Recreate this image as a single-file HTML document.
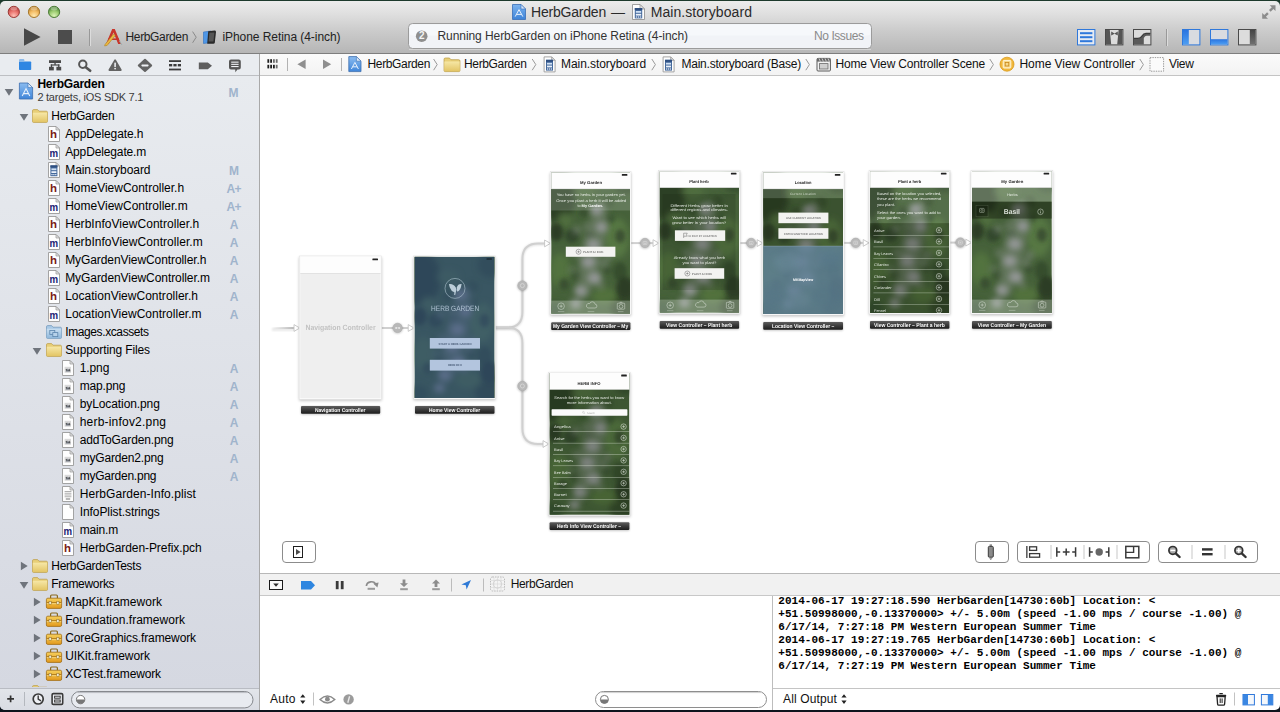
<!DOCTYPE html>
<html>
<head>
<meta charset="utf-8">
<title>HerbGarden — Main.storyboard</title>
<style>
*{box-sizing:border-box;margin:0;padding:0}
html,body{width:1280px;height:712px;overflow:hidden;background:#0e141d}
body{background:linear-gradient(#1d3a2c 0,#1d3a2c 10px,#0e141d 10px)}
body{font-family:"Liberation Sans",sans-serif;font-size:12px;color:#000;position:relative}
.abs{position:absolute}
#win{position:absolute;left:0;top:0;width:1280px;height:710px;background:transparent;border-radius:0 0 5px 5px;overflow:hidden}
#topstrip{position:absolute;left:0;top:0;width:1280px;height:1px;background:#1d3a2c;z-index:5}
#tbar{position:absolute;left:0;top:1px;width:1280px;height:53px;background:linear-gradient(#ececec 0px,#e0e0e0 12px,#cbcbcb 30px,#b6b6b6 52px);border-bottom:1px solid #7e7e7e;border-radius:5px 5px 0 0}
#nav{position:absolute;left:0;top:54px;width:259px;height:656px;background:linear-gradient(#e8ebef 22px,#d5d8e1 634px)}
#navdiv{position:absolute;left:259px;top:54px;width:1px;height:656px;background:#a9a9a9}
#navsel{position:absolute;left:0;top:54px;width:259px;height:22px;background:#e9ecf0;border-bottom:1px solid #bdbfc3}
#navbot{position:absolute;left:0;top:688px;width:259px;height:22px;background:linear-gradient(#e2e5ea,#d9dce3);border-top:1px solid #b9bcc3}
#jump{position:absolute;left:260px;top:54px;width:1020px;height:22px;background:linear-gradient(#fbfbfb,#f3f3f3);border-bottom:1px solid #c4c4c4}
#canvas{position:absolute;left:260px;top:76px;width:1020px;height:497px;background:#fff;overflow:hidden}
#dbar{position:absolute;left:260px;top:573px;width:1020px;height:23px;background:#f1f1f1;border-top:1px solid #b8b8b8;border-bottom:1px solid #c8c8c8}
#dbg{position:absolute;left:260px;top:596px;width:1020px;height:114px;background:#fff}
#dsplit{position:absolute;left:772px;top:596px;width:1px;height:114px;background:#bdbdbd}
#dbot{position:absolute;left:773px;top:688px;width:507px;height:1px;background:#c4c4c4}
.t{position:absolute;white-space:pre;display:block}
svg{position:absolute;overflow:visible}
</style>
</head>
<body>
<div id="topstrip"></div>
<div id="win">
<div id="tbar"></div>
<svg style="left:0;top:0" width="1280" height="54" viewBox="0 0 1280 54">
<defs>
<radialGradient id="gr" cx="50%" cy="85%" r="70%"><stop offset="0" stop-color="#ffc0b6"/><stop offset="0.6" stop-color="#ea746e"/><stop offset="1" stop-color="#c04a46"/></radialGradient>
<radialGradient id="gy" cx="50%" cy="85%" r="70%"><stop offset="0" stop-color="#ffe9b0"/><stop offset="0.6" stop-color="#f4bc64"/><stop offset="1" stop-color="#c8903a"/></radialGradient>
<radialGradient id="gg" cx="50%" cy="85%" r="70%"><stop offset="0" stop-color="#dcf4b8"/><stop offset="0.6" stop-color="#9ccc70"/><stop offset="1" stop-color="#5c9444"/></radialGradient>
<linearGradient id="gblue" x1="0" y1="0" x2="0" y2="1"><stop offset="0" stop-color="#2a74e0"/><stop offset="1" stop-color="#4d9ef2"/></linearGradient>
<linearGradient id="ggrey" x1="0" y1="0" x2="0" y2="1"><stop offset="0" stop-color="#454545"/><stop offset="1" stop-color="#707070"/></linearGradient>
<linearGradient id="gdoc" x1="0" y1="0" x2="0" y2="1"><stop offset="0" stop-color="#7db4ee"/><stop offset="1" stop-color="#3d83d8"/></linearGradient>
</defs>
<!-- traffic lights -->
<circle cx="13.8" cy="11.9" r="5.6" fill="url(#gr)" stroke="#9a3834" stroke-width="1"/>
<circle cx="34" cy="11.9" r="5.6" fill="url(#gy)" stroke="#a5772c" stroke-width="1"/>
<circle cx="54.1" cy="11.9" r="5.6" fill="url(#gg)" stroke="#4a7a36" stroke-width="1"/>
<ellipse cx="13.8" cy="8.6" rx="3.4" ry="1.9" fill="#fff" opacity="0.3"/>
<ellipse cx="34" cy="8.6" rx="3.4" ry="1.9" fill="#fff" opacity="0.3"/>
<ellipse cx="54.1" cy="8.6" rx="3.4" ry="1.9" fill="#fff" opacity="0.3"/>
<!-- run / stop -->
<path d="M24 28.3 L40.6 37 L24 45.7 Z" fill="#484848"/>
<rect x="58" y="30" width="14" height="14" fill="#4c4c4c"/>
<rect x="89" y="29" width="1" height="17" fill="#999"/>
<rect x="90" y="29" width="1" height="17" fill="#dcdcdc"/>
<!-- scheme: xcode app icon -->
<g>
<path d="M106 44 L112.2 29 L114.8 29 L121 44 L118.2 44 L113.5 32.5 L108.8 44 Z" fill="#c8352b"/>
<rect x="108" y="38.4" width="11" height="1.6" fill="#c8352b"/>
<path d="M105.2 44.2 L113.5 34 L115.3 35.6 L107.2 45.4 L104.6 46 Z" fill="#e9b640" stroke="#a67a1c" stroke-width="0.5"/>
<path d="M119.5 41 L121.8 44.8" stroke="#9aa" stroke-width="1"/>
</g>
<!-- chevron -->
<path d="M192.6 31.6 L196.2 37.2 L192.6 42.8" fill="none" stroke="#8a8a8a" stroke-width="1"/>
<!-- iphone icon -->
<g>
<path d="M203.5 32 L211 31 L211 42.5 L203.5 43.5 Z" fill="#4f97e6" stroke="#2f6fc0" stroke-width="0.6"/>
<path d="M208.2 31.2 L214.6 30.6 Q216 30.6 216 32 L214.8 42.6 Q214.6 43.8 213.4 43.8 L207.2 43.8 Z" fill="#2a2a2a"/>
<path d="M209.4 32.8 L214.4 32.4 L213.4 41.4 L208.6 41.6 Z" fill="#555"/>
</g>
<!-- title doc icons -->
<g>
<path d="M512.5 4.5 L521 4.5 L525.5 9 L525.5 19.5 L512.5 19.5 Z" fill="url(#gdoc)" stroke="#3a6fb8" stroke-width="0.8"/>
<path d="M521 4.5 L521 9 L525.5 9 Z" fill="#d6e6f8" stroke="#3a6fb8" stroke-width="0.6"/>
<path d="M515.2 16.6 L519 9.6 L522.8 16.6 M516.4 14.4 L521.6 14.4" fill="none" stroke="#e8f1fc" stroke-width="1"/>
</g>
<g>
<path d="M632.5 4.5 L640 4.5 L644.5 9 L644.5 19.5 L632.5 19.5 Z" fill="#fdfdfd" stroke="#8a8a8a" stroke-width="0.8"/>
<path d="M640 4.5 L640 9 L644.5 9 Z" fill="#e6e6e6" stroke="#8a8a8a" stroke-width="0.6"/>
<rect x="634.8" y="8" width="7.4" height="10.4" fill="#44699c"/><rect x="634.8" y="8" width="7.4" height="2" fill="#2f4f80"/><rect x="635.8" y="11" width="5.4" height="1.8" fill="#cfe0f4"/><rect x="635.8" y="13.8" width="5.4" height="1.8" fill="#eaf1fa"/><rect x="635.8" y="16.4" width="1.3" height="1.2" fill="#eaf1fa"/><rect x="637.85" y="16.4" width="1.3" height="1.2" fill="#eaf1fa"/><rect x="639.9" y="16.4" width="1.3" height="1.2" fill="#eaf1fa"/>
</g>
<!-- activity viewer -->
<rect x="408.5" y="23.5" width="463" height="25" rx="4" fill="#f1f3f7" stroke="#9b9b9b" stroke-width="1"/>
<rect x="409.5" y="24.5" width="461" height="11" rx="3" fill="#f8f9fb" opacity="0.8"/>
<rect x="409" y="49" width="462" height="1" fill="#e0e0e0" opacity="0.7"/>
<circle cx="421.7" cy="36.2" r="5.8" fill="#8e8e8e"/>
<!-- right buttons -->
<g>
<rect x="1077.5" y="29.5" width="17.4" height="15.4" fill="#e6ebf3" stroke="#2f78db" stroke-width="1"/>
<rect x="1080" y="32.2" width="12.4" height="2" fill="#2f78db"/><rect x="1080" y="36.2" width="12.4" height="2" fill="#2f78db"/><rect x="1080" y="40.2" width="12.4" height="2" fill="#2f78db"/>
</g>
<g>
<rect x="1105.5" y="29.5" width="17.4" height="15.4" fill="#dcdcdc" stroke="#4a4a4a" stroke-width="1"/>
<path d="M1106 30 L1109.8 30 L1111.2 44.4 L1106 44.4 Z M1122.4 30 L1118.6 30 L1117.2 44.4 L1122.4 44.4 Z" fill="#555"/>
<path d="M1111.2 31.6 L1114.5 33.4 L1117.8 31.6 L1117.8 35.6 L1114.5 33.8 L1111.2 35.6 Z" fill="#555"/>
</g>
<g>
<rect x="1133.5" y="29.5" width="17.4" height="15.4" fill="#dcdcdc" stroke="#4a4a4a" stroke-width="1"/>
<path d="M1134 44.4 L1134 38.4 L1138 38.4 Q1140.6 38.4 1142 36 Q1143.6 33.4 1146 33.4 L1150.4 33.4 L1150.4 35.8 L1146.6 35.8 Q1145 35.8 1143.8 38 L1143.8 44.4 Z" fill="#5a5a5a"/><path d="M1134 38.4 L1138 38.4 Q1140.6 38.4 1142 36 Q1143.6 33.4 1146 33.4 L1150.4 33.4" fill="none" stroke="#3c3c3c" stroke-width="1.4"/></g>
<rect x="1166" y="29" width="1" height="17" fill="#999"/><rect x="1167" y="29" width="1" height="17" fill="#dcdcdc"/>
<g>
<rect x="1182.5" y="29.5" width="17.4" height="15.4" fill="#d9dbe0" stroke="#2f78db" stroke-width="1"/>
<rect x="1183" y="30" width="5.8" height="14.4" fill="url(#gblue)"/>
</g>
<g>
<rect x="1210.5" y="29.5" width="17.4" height="15.4" fill="#d9dbe0" stroke="#2f78db" stroke-width="1"/>
<rect x="1211" y="39.2" width="16.4" height="5.2" fill="url(#gblue)"/>
</g>
<g>
<rect x="1238.5" y="29.5" width="17.4" height="15.4" fill="#dcdcdc" stroke="#4a4a4a" stroke-width="1"/>
<rect x="1249.8" y="30" width="5.6" height="14.4" fill="url(#ggrey)"/>
</g>
<!-- fullscreen arrows -->
<path d="M1275.5 5.2 L1275.5 11 L1273.4 8.9 L1270.6 11.7 L1269 10.1 L1271.8 7.3 L1269.7 5.2 Z" fill="#8c8c8c"/>
<path d="M1262.2 18.8 L1262.2 13 L1264.3 15.1 L1267.1 12.3 L1268.7 13.9 L1265.9 16.7 L1268 18.8 Z" fill="#8c8c8c"/>
</svg>
<span class="t" style="left:531px;top:2.7px;height:19px;line-height:19px;font-size:14px;letter-spacing:-0.205px;color:#2a2a2a">HerbGarden</span>
<span class="t" style="left:611px;top:2.5px;height:19px;line-height:19px;font-size:14px;letter-spacing:-1.000px;color:#2a2a2a">—</span>
<span class="t" style="left:650.7px;top:2.7px;height:19px;line-height:19px;font-size:14px;letter-spacing:0.061px;color:#2a2a2a">Main.storyboard</span>
<span class="t" style="left:125.5px;top:29px;height:16px;line-height:16px;font-size:12px;letter-spacing:-0.355px;color:#222">HerbGarden</span>
<span class="t" style="left:222.4px;top:29px;height:16px;line-height:16px;font-size:12px;letter-spacing:-0.059px;color:#222">iPhone Retina (4-inch)</span>
<span class="t" style="left:437.5px;top:28.2px;height:16px;line-height:16px;font-size:12px;letter-spacing:-0.068px;color:#333">Running HerbGarden on iPhone Retina (4-inch)</span>
<span class="t" style="left:814px;top:28.2px;height:16px;line-height:16px;font-size:12px;letter-spacing:-0.429px;color:#8a8a8a">No Issues</span>
<span class="t" style="left:418.9px;top:29.3px;height:14px;line-height:14px;font-size:10px;color:#f4f4f4;font-weight:bold">2</span>
<div id="nav"></div>
<div id="tree" class="abs" style="left:0;top:0;width:259px;height:687px;overflow:hidden">
<svg width="0" height="0" style="left:0;top:0"><defs>
<linearGradient id="gfold" x1="0" y1="0" x2="0" y2="1"><stop offset="0" stop-color="#f6e7a6"/><stop offset="1" stop-color="#e3c565"/></linearGradient>
<linearGradient id="gxca" x1="0" y1="0" x2="0" y2="1"><stop offset="0" stop-color="#c9dff1"/><stop offset="1" stop-color="#8fb8dc"/></linearGradient>
<linearGradient id="gtool" x1="0" y1="0" x2="0" y2="1"><stop offset="0" stop-color="#f6cf5a"/><stop offset="1" stop-color="#e39a1e"/></linearGradient>
<linearGradient id="gproj" x1="0" y1="0" x2="0" y2="1"><stop offset="0" stop-color="#8bbcf0"/><stop offset="1" stop-color="#3f85d9"/></linearGradient>
<g id="i-doc"><path d="M-5.5 -7.5 L2 -7.5 L5.5 -4 L5.5 7.5 L-5.5 7.5 Z" fill="#fefefe" stroke="#9a9a9a" stroke-width="0.9"/><path d="M2 -7.5 L2 -4 L5.5 -4 Z" fill="#e2e2e2" stroke="#9a9a9a" stroke-width="0.7"/></g>
<g id="i-folder"><path d="M-7.5 -5.2 Q-7.5 -6.4 -6.3 -6.4 L-2.4 -6.4 L-1 -4.8 L6.3 -4.8 Q7.5 -4.8 7.5 -3.6 L7.5 5.4 Q7.5 6.4 6.5 6.4 L-6.5 6.4 Q-7.5 6.4 -7.5 5.4 Z" fill="#e8cf78" stroke="#b99a45" stroke-width="0.7"/><path d="M-7.2 -3.2 L7.2 -3.2 L7.2 5.4 Q7.2 6.1 6.5 6.1 L-6.5 6.1 Q-7.2 6.1 -7.2 5.4 Z" fill="url(#gfold)"/></g>
<g id="i-xca"><path d="M-7.5 -5.2 Q-7.5 -6.4 -6.3 -6.4 L-2.4 -6.4 L-1 -4.8 L6.3 -4.8 Q7.5 -4.8 7.5 -3.6 L7.5 5.4 Q7.5 6.4 6.5 6.4 L-6.5 6.4 Q-7.5 6.4 -7.5 5.4 Z" fill="#a9c9e6" stroke="#6b93b8" stroke-width="0.7"/><path d="M-7.2 -3.2 L7.2 -3.2 L7.2 5.4 Q7.2 6.1 6.5 6.1 L-6.5 6.1 Q-7.2 6.1 -7.2 5.4 Z" fill="url(#gxca)"/><rect x="-4.2" y="-1.6" width="5" height="4" fill="none" stroke="#5d86ad" stroke-width="0.8"/><rect x="-1.2" y="0.6" width="5" height="4" fill="#b7d2ea" stroke="#5d86ad" stroke-width="0.8"/></g>
<g id="i-tool"><path d="M-3.4 -3.4 L-3.4 -6 Q-3.4 -7 -2.4 -7 L2.4 -7 Q3.4 -7 3.4 -6 L3.4 -3.4" fill="none" stroke="#8a6a1e" stroke-width="1.2"/><rect x="-7.6" y="-3.8" width="15.2" height="10.2" rx="1.4" fill="url(#gtool)" stroke="#a06c14" stroke-width="0.8"/><rect x="-7.2" y="0.2" width="14.4" height="1.1" fill="#a87418"/><rect x="-7.2" y="1.3" width="14.4" height="0.8" fill="#fbe08a"/><rect x="-5" y="-0.6" width="2.2" height="2.8" fill="#f4f0e0" stroke="#8a6a1e" stroke-width="0.5"/><rect x="2.8" y="-0.6" width="2.2" height="2.8" fill="#f4f0e0" stroke="#8a6a1e" stroke-width="0.5"/></g>
<path id="tri-d" d="M-4.3 -3.1 L4.3 -3.1 L0 3.7 Z" fill="#6f747c"/>
<path id="tri-r" d="M-3.1 -4.3 L3.7 0 L-3.1 4.3 Z" fill="#6f747c"/>
</defs></svg>
<svg style="left:9.4px;top:91.8px" width="1" height="1"><use href="#tri-d"/></svg>
<svg style="left:26.2px;top:91.2px" width="1" height="1"><path d="M-6.6 -8 L2 -8 L6.6 -3.4 L6.6 8 L-6.6 8 Z" fill="url(#gproj)" stroke="#3d6fae" stroke-width="0.8"/><path d="M2 -8 L2 -3.4 L6.6 -3.4 Z" fill="#dbe9f9" stroke="#3d6fae" stroke-width="0.6"/><path d="M-3.8 5 L0 -2.4 L3.8 5 M-2.6 2.6 L2.6 2.6" fill="none" stroke="#e6f0fc" stroke-width="1.1"/></svg>
<span class="t" style="left:37.4px;top:76.4px;height:16px;line-height:16px;font-size:12px;letter-spacing:-0.226px;font-weight:bold;color:#000">HerbGarden</span>
<span class="t" style="left:37.4px;top:90.3px;height:15px;line-height:15px;font-size:11px;letter-spacing:-0.254px;color:#3c3c3c">2 targets, iOS SDK 7.1</span>
<span class="t" style="left:228.6px;top:84.6px;height:16px;line-height:16px;font-size:12px;letter-spacing:-0.600px;font-weight:bold;color:#a0b4cc">M</span>
<svg style="left:24px;top:116.5px" width="1" height="1"><use href="#tri-d"/></svg>
<svg style="left:40px;top:116.1px" width="1" height="1"><use href="#i-folder"/></svg>
<span class="t" style="left:51.3px;top:108.3px;height:16px;line-height:16px;font-size:12px;letter-spacing:-0.305px;color:#000">HerbGarden</span>
<svg style="left:54px;top:134.1px" width="1" height="1"><use href="#i-doc"/><text x="-0.4" y="4.4" text-anchor="middle" font-family="Liberation Sans" font-weight="bold" font-size="11.5" fill="#7a1d17">h</text></svg>
<span class="t" style="left:65.2px;top:126.3px;height:16px;line-height:16px;font-size:12px;letter-spacing:-0.093px;color:#000">AppDelegate.h</span>
<svg style="left:54px;top:152.1px" width="1" height="1"><use href="#i-doc"/><text x="-0.1" y="4.6" text-anchor="middle" font-family="Liberation Sans" font-weight="bold" font-size="10.5" fill="#1c2275" textLength="8.6" lengthAdjust="spacingAndGlyphs">m</text></svg>
<span class="t" style="left:65.2px;top:144.3px;height:16px;line-height:16px;font-size:12px;letter-spacing:-0.132px;color:#000">AppDelegate.m</span>
<svg style="left:54px;top:170.1px" width="1" height="1"><use href="#i-doc"/><rect x="-3.6" y="-4.6" width="7" height="10.8" fill="#44699c"/><rect x="-3.6" y="-4.6" width="7" height="2" fill="#2f4f80"/><rect x="-2.6" y="-1.6" width="5" height="1.8" fill="#cfe0f4"/><rect x="-2.6" y="1.2" width="5" height="1.8" fill="#eaf1fa"/><rect x="-2.6" y="4" width="1.2" height="1.2" fill="#eaf1fa"/><rect x="-0.7" y="4" width="1.2" height="1.2" fill="#eaf1fa"/><rect x="1.2" y="4" width="1.2" height="1.2" fill="#eaf1fa"/></svg>
<span class="t" style="left:65.2px;top:162.3px;height:16px;line-height:16px;font-size:12px;letter-spacing:-0.050px;color:#000">Main.storyboard</span>
<span class="t" style="left:228.9px;top:162.5px;height:16px;line-height:16px;font-size:12px;letter-spacing:-0.600px;font-weight:bold;color:#a0b4cc">M</span>
<svg style="left:54px;top:188.1px" width="1" height="1"><use href="#i-doc"/><text x="-0.4" y="4.4" text-anchor="middle" font-family="Liberation Sans" font-weight="bold" font-size="11.5" fill="#7a1d17">h</text></svg>
<span class="t" style="left:65.2px;top:180.3px;height:16px;line-height:16px;font-size:12px;letter-spacing:-0.014px;color:#000">HomeViewController.h</span>
<span class="t" style="left:226.6px;top:180.5px;height:16px;line-height:16px;font-size:12px;letter-spacing:-0.844px;font-weight:bold;color:#a0b4cc">A+</span>
<svg style="left:54px;top:206.1px" width="1" height="1"><use href="#i-doc"/><text x="-0.1" y="4.6" text-anchor="middle" font-family="Liberation Sans" font-weight="bold" font-size="10.5" fill="#1c2275" textLength="8.6" lengthAdjust="spacingAndGlyphs">m</text></svg>
<span class="t" style="left:65.2px;top:198.3px;height:16px;line-height:16px;font-size:12px;letter-spacing:-0.000px;color:#000">HomeViewController.m</span>
<span class="t" style="left:226.6px;top:198.5px;height:16px;line-height:16px;font-size:12px;letter-spacing:-0.844px;font-weight:bold;color:#a0b4cc">A+</span>
<svg style="left:54px;top:224.1px" width="1" height="1"><use href="#i-doc"/><text x="-0.4" y="4.4" text-anchor="middle" font-family="Liberation Sans" font-weight="bold" font-size="11.5" fill="#7a1d17">h</text></svg>
<span class="t" style="left:65.2px;top:216.3px;height:16px;line-height:16px;font-size:12px;letter-spacing:0.038px;color:#000">HerbInfoViewController.h</span>
<span class="t" style="left:229.7px;top:216.5px;height:16px;line-height:16px;font-size:12px;letter-spacing:-0.872px;font-weight:bold;color:#a0b4cc">A</span>
<svg style="left:54px;top:242.1px" width="1" height="1"><use href="#i-doc"/><text x="-0.1" y="4.6" text-anchor="middle" font-family="Liberation Sans" font-weight="bold" font-size="10.5" fill="#1c2275" textLength="8.6" lengthAdjust="spacingAndGlyphs">m</text></svg>
<span class="t" style="left:65.2px;top:234.3px;height:16px;line-height:16px;font-size:12px;letter-spacing:0.045px;color:#000">HerbInfoViewController.m</span>
<span class="t" style="left:229.7px;top:234.5px;height:16px;line-height:16px;font-size:12px;letter-spacing:-0.872px;font-weight:bold;color:#a0b4cc">A</span>
<svg style="left:54px;top:260.1px" width="1" height="1"><use href="#i-doc"/><text x="-0.4" y="4.4" text-anchor="middle" font-family="Liberation Sans" font-weight="bold" font-size="11.5" fill="#7a1d17">h</text></svg>
<span class="t" style="left:65.2px;top:252.3px;height:16px;line-height:16px;font-size:12px;letter-spacing:-0.083px;color:#000">MyGardenViewController.h</span>
<span class="t" style="left:229.7px;top:252.5px;height:16px;line-height:16px;font-size:12px;letter-spacing:-0.872px;font-weight:bold;color:#a0b4cc">A</span>
<svg style="left:54px;top:278.1px" width="1" height="1"><use href="#i-doc"/><text x="-0.1" y="4.6" text-anchor="middle" font-family="Liberation Sans" font-weight="bold" font-size="10.5" fill="#1c2275" textLength="8.6" lengthAdjust="spacingAndGlyphs">m</text></svg>
<span class="t" style="left:65.2px;top:270.3px;height:16px;line-height:16px;font-size:12px;letter-spacing:-0.076px;color:#000">MyGardenViewController.m</span>
<span class="t" style="left:229.7px;top:270.5px;height:16px;line-height:16px;font-size:12px;letter-spacing:-0.872px;font-weight:bold;color:#a0b4cc">A</span>
<svg style="left:54px;top:296.1px" width="1" height="1"><use href="#i-doc"/><text x="-0.4" y="4.4" text-anchor="middle" font-family="Liberation Sans" font-weight="bold" font-size="11.5" fill="#7a1d17">h</text></svg>
<span class="t" style="left:65.2px;top:288.3px;height:16px;line-height:16px;font-size:12px;letter-spacing:0.011px;color:#000">LocationViewController.h</span>
<span class="t" style="left:229.7px;top:288.5px;height:16px;line-height:16px;font-size:12px;letter-spacing:-0.872px;font-weight:bold;color:#a0b4cc">A</span>
<svg style="left:54px;top:314.1px" width="1" height="1"><use href="#i-doc"/><text x="-0.1" y="4.6" text-anchor="middle" font-family="Liberation Sans" font-weight="bold" font-size="10.5" fill="#1c2275" textLength="8.6" lengthAdjust="spacingAndGlyphs">m</text></svg>
<span class="t" style="left:65.2px;top:306.3px;height:16px;line-height:16px;font-size:12px;letter-spacing:0.023px;color:#000">LocationViewController.m</span>
<span class="t" style="left:229.7px;top:306.5px;height:16px;line-height:16px;font-size:12px;letter-spacing:-0.872px;font-weight:bold;color:#a0b4cc">A</span>
<svg style="left:54px;top:332.1px" width="1" height="1"><use href="#i-xca"/></svg>
<span class="t" style="left:65.2px;top:324.3px;height:16px;line-height:16px;font-size:12px;letter-spacing:-0.392px;color:#000">Images.xcassets</span>
<svg style="left:37.4px;top:350.5px" width="1" height="1"><use href="#tri-d"/></svg>
<svg style="left:54px;top:350.1px" width="1" height="1"><use href="#i-folder"/></svg>
<span class="t" style="left:65.2px;top:342.3px;height:16px;line-height:16px;font-size:12px;letter-spacing:-0.120px;color:#000">Supporting Files</span>
<svg style="left:68.2px;top:368.1px" width="1" height="1"><use href="#i-doc"/><rect x="-3.4" y="-1.2" width="6.4" height="6" fill="#d9d9d9"/><path d="M-2.4 3.6 L-1 0.2 L0 2.2 L1.2 0.4 L2.4 3.6 Z" fill="#6e7580"/><circle cx="-1.6" cy="1.8" r="0.8" fill="#555"/><circle cx="1.4" cy="2.2" r="0.9" fill="#555"/></svg>
<span class="t" style="left:79.7px;top:360.3px;height:16px;line-height:16px;font-size:12px;letter-spacing:-0.086px;color:#000">1.png</span>
<span class="t" style="left:229.7px;top:360.5px;height:16px;line-height:16px;font-size:12px;letter-spacing:-0.872px;font-weight:bold;color:#a0b4cc">A</span>
<svg style="left:68.2px;top:386.1px" width="1" height="1"><use href="#i-doc"/><rect x="-3.4" y="-1.2" width="6.4" height="6" fill="#d9d9d9"/><path d="M-2.4 3.6 L-1 0.2 L0 2.2 L1.2 0.4 L2.4 3.6 Z" fill="#6e7580"/><circle cx="-1.6" cy="1.8" r="0.8" fill="#555"/><circle cx="1.4" cy="2.2" r="0.9" fill="#555"/></svg>
<span class="t" style="left:79.7px;top:378.3px;height:16px;line-height:16px;font-size:12px;letter-spacing:-0.172px;color:#000">map.png</span>
<span class="t" style="left:229.7px;top:378.5px;height:16px;line-height:16px;font-size:12px;letter-spacing:-0.872px;font-weight:bold;color:#a0b4cc">A</span>
<svg style="left:68.2px;top:404.1px" width="1" height="1"><use href="#i-doc"/><rect x="-3.4" y="-1.2" width="6.4" height="6" fill="#d9d9d9"/><path d="M-2.4 3.6 L-1 0.2 L0 2.2 L1.2 0.4 L2.4 3.6 Z" fill="#6e7580"/><circle cx="-1.6" cy="1.8" r="0.8" fill="#555"/><circle cx="1.4" cy="2.2" r="0.9" fill="#555"/></svg>
<span class="t" style="left:79.7px;top:396.3px;height:16px;line-height:16px;font-size:12px;letter-spacing:-0.093px;color:#000">byLocation.png</span>
<span class="t" style="left:229.7px;top:396.5px;height:16px;line-height:16px;font-size:12px;letter-spacing:-0.872px;font-weight:bold;color:#a0b4cc">A</span>
<svg style="left:68.2px;top:422.1px" width="1" height="1"><use href="#i-doc"/><rect x="-3.4" y="-1.2" width="6.4" height="6" fill="#d9d9d9"/><path d="M-2.4 3.6 L-1 0.2 L0 2.2 L1.2 0.4 L2.4 3.6 Z" fill="#6e7580"/><circle cx="-1.6" cy="1.8" r="0.8" fill="#555"/><circle cx="1.4" cy="2.2" r="0.9" fill="#555"/></svg>
<span class="t" style="left:79.7px;top:414.3px;height:16px;line-height:16px;font-size:12px;letter-spacing:0.207px;color:#000">herb-infov2.png</span>
<span class="t" style="left:229.7px;top:414.5px;height:16px;line-height:16px;font-size:12px;letter-spacing:-0.872px;font-weight:bold;color:#a0b4cc">A</span>
<svg style="left:68.2px;top:440.1px" width="1" height="1"><use href="#i-doc"/><rect x="-3.4" y="-1.2" width="6.4" height="6" fill="#d9d9d9"/><path d="M-2.4 3.6 L-1 0.2 L0 2.2 L1.2 0.4 L2.4 3.6 Z" fill="#6e7580"/><circle cx="-1.6" cy="1.8" r="0.8" fill="#555"/><circle cx="1.4" cy="2.2" r="0.9" fill="#555"/></svg>
<span class="t" style="left:79.7px;top:432.3px;height:16px;line-height:16px;font-size:12px;letter-spacing:-0.152px;color:#000">addToGarden.png</span>
<span class="t" style="left:229.7px;top:432.5px;height:16px;line-height:16px;font-size:12px;letter-spacing:-0.872px;font-weight:bold;color:#a0b4cc">A</span>
<svg style="left:68.2px;top:458.1px" width="1" height="1"><use href="#i-doc"/><rect x="-3.4" y="-1.2" width="6.4" height="6" fill="#d9d9d9"/><path d="M-2.4 3.6 L-1 0.2 L0 2.2 L1.2 0.4 L2.4 3.6 Z" fill="#6e7580"/><circle cx="-1.6" cy="1.8" r="0.8" fill="#555"/><circle cx="1.4" cy="2.2" r="0.9" fill="#555"/></svg>
<span class="t" style="left:79.7px;top:450.3px;height:16px;line-height:16px;font-size:12px;letter-spacing:-0.182px;color:#000">myGarden2.png</span>
<span class="t" style="left:229.7px;top:450.5px;height:16px;line-height:16px;font-size:12px;letter-spacing:-0.872px;font-weight:bold;color:#a0b4cc">A</span>
<svg style="left:68.2px;top:476.1px" width="1" height="1"><use href="#i-doc"/><rect x="-3.4" y="-1.2" width="6.4" height="6" fill="#d9d9d9"/><path d="M-2.4 3.6 L-1 0.2 L0 2.2 L1.2 0.4 L2.4 3.6 Z" fill="#6e7580"/><circle cx="-1.6" cy="1.8" r="0.8" fill="#555"/><circle cx="1.4" cy="2.2" r="0.9" fill="#555"/></svg>
<span class="t" style="left:79.7px;top:468.3px;height:16px;line-height:16px;font-size:12px;letter-spacing:-0.233px;color:#000">myGarden.png</span>
<span class="t" style="left:229.7px;top:468.5px;height:16px;line-height:16px;font-size:12px;letter-spacing:-0.872px;font-weight:bold;color:#a0b4cc">A</span>
<svg style="left:68.2px;top:494.1px" width="1" height="1"><use href="#i-doc"/><rect x="-3.4" y="-3" width="6.8" height="0.8" fill="#9c9c9c"/><rect x="-3.4" y="-1.2" width="6.8" height="0.8" fill="#9c9c9c"/><rect x="-3.4" y="0.6" width="6.8" height="0.8" fill="#9c9c9c"/><rect x="-3.4" y="2.4" width="6.8" height="0.8" fill="#9c9c9c"/><rect x="-2.2" y="4.4" width="4.4" height="1.2" fill="#8a8a8a"/></svg>
<span class="t" style="left:79.7px;top:486.3px;height:16px;line-height:16px;font-size:12px;letter-spacing:0.075px;color:#000">HerbGarden-Info.plist</span>
<svg style="left:68.2px;top:512.1px" width="1" height="1"><use href="#i-doc"/></svg>
<span class="t" style="left:79.7px;top:504.3px;height:16px;line-height:16px;font-size:12px;letter-spacing:-0.075px;color:#000">InfoPlist.strings</span>
<svg style="left:68.2px;top:530.1px" width="1" height="1"><use href="#i-doc"/><text x="-0.1" y="4.6" text-anchor="middle" font-family="Liberation Sans" font-weight="bold" font-size="10.5" fill="#1c2275" textLength="8.6" lengthAdjust="spacingAndGlyphs">m</text></svg>
<span class="t" style="left:79.7px;top:522.3px;height:16px;line-height:16px;font-size:12px;letter-spacing:-0.157px;color:#000">main.m</span>
<svg style="left:68.2px;top:548.1px" width="1" height="1"><use href="#i-doc"/><text x="-0.4" y="4.4" text-anchor="middle" font-family="Liberation Sans" font-weight="bold" font-size="11.5" fill="#7a1d17">h</text></svg>
<span class="t" style="left:79.7px;top:540.3px;height:16px;line-height:16px;font-size:12px;letter-spacing:-0.071px;color:#000">HerbGarden-Prefix.pch</span>
<svg style="left:24px;top:566.3px" width="1" height="1"><use href="#tri-r"/></svg>
<svg style="left:40px;top:566.1px" width="1" height="1"><use href="#i-folder"/></svg>
<span class="t" style="left:51.3px;top:558.3px;height:16px;line-height:16px;font-size:12px;letter-spacing:-0.283px;color:#000">HerbGardenTests</span>
<svg style="left:24px;top:584.5px" width="1" height="1"><use href="#tri-d"/></svg>
<svg style="left:40px;top:584.1px" width="1" height="1"><use href="#i-folder"/></svg>
<span class="t" style="left:51.3px;top:576.3px;height:16px;line-height:16px;font-size:12px;letter-spacing:-0.302px;color:#000">Frameworks</span>
<svg style="left:37.4px;top:602.3px" width="1" height="1"><use href="#tri-r"/></svg>
<svg style="left:54px;top:602.1px" width="1" height="1"><use href="#i-tool"/></svg>
<span class="t" style="left:65.2px;top:594.3px;height:16px;line-height:16px;font-size:12px;letter-spacing:-0.000px;color:#000">MapKit.framework</span>
<svg style="left:37.4px;top:620.3px" width="1" height="1"><use href="#tri-r"/></svg>
<svg style="left:54px;top:620.1px" width="1" height="1"><use href="#i-tool"/></svg>
<span class="t" style="left:65.2px;top:612.3px;height:16px;line-height:16px;font-size:12px;letter-spacing:0.020px;color:#000">Foundation.framework</span>
<svg style="left:37.4px;top:638.3px" width="1" height="1"><use href="#tri-r"/></svg>
<svg style="left:54px;top:638.1px" width="1" height="1"><use href="#i-tool"/></svg>
<span class="t" style="left:65.2px;top:630.3px;height:16px;line-height:16px;font-size:12px;letter-spacing:-0.117px;color:#000">CoreGraphics.framework</span>
<svg style="left:37.4px;top:656.3px" width="1" height="1"><use href="#tri-r"/></svg>
<svg style="left:54px;top:656.1px" width="1" height="1"><use href="#i-tool"/></svg>
<span class="t" style="left:65.2px;top:648.3px;height:16px;line-height:16px;font-size:12px;letter-spacing:-0.037px;color:#000">UIKit.framework</span>
<svg style="left:37.4px;top:674.3px" width="1" height="1"><use href="#tri-r"/></svg>
<svg style="left:54px;top:674.1px" width="1" height="1"><use href="#i-tool"/></svg>
<span class="t" style="left:65.2px;top:666.3px;height:16px;line-height:16px;font-size:12px;letter-spacing:-0.139px;color:#000">XCTest.framework</span>
<svg style="left:24px;top:692.3px" width="1" height="1"><use href="#tri-r"/></svg>
<svg style="left:40px;top:692.1px" width="1" height="1"><use href="#i-folder"/></svg>
<span class="t" style="left:51.3px;top:684.3px;height:16px;line-height:16px;font-size:12px;letter-spacing:-0.457px;color:#000">Products</span>
</div>
<div id="navsel"></div>
<svg style="left:0;top:54px" width="259" height="22" viewBox="0 54 259 22">
<!-- folder (active, blue) -->
<path d="M19 60.2 Q19 59.4 19.8 59.4 L23.6 59.4 Q24.4 59.4 24.4 60.2 L24.4 60.6 L19 60.6 Z" fill="#2f86e2"/>
<path d="M19 61.4 L30.4 61.4 Q31.2 61.4 31.2 62.2 L31.2 69.2 Q31.2 70 30.4 70 L19.8 70 Q19 70 19 69.2 Z" fill="#2f86e2"/>
<!-- hierarchy -->
<g fill="#4a4a4a"><rect x="49" y="60.2" width="12" height="2.8"/><rect x="54.4" y="63" width="1.3" height="2"/><rect x="50.8" y="64.4" width="8.6" height="1.2"/><rect x="50.8" y="64.4" width="1.3" height="2.6"/><rect x="58.1" y="64.4" width="1.3" height="2.6"/><rect x="49" y="66.8" width="4.8" height="3.6"/><rect x="56.4" y="66.8" width="4.8" height="3.6"/></g>
<!-- search -->
<circle cx="82.8" cy="64.2" r="3.7" fill="none" stroke="#555" stroke-width="2"/><path d="M85.8 67.2 L90.2 70.8" stroke="#555" stroke-width="2.6" stroke-linecap="round"/>
<!-- warning -->
<path d="M115.1 60.2 L120.8 70 L109.4 70 Z" fill="#636363" stroke="#636363" stroke-width="1.8" stroke-linejoin="round"/><rect x="114.3" y="62.4" width="1.6" height="4.6" rx="0.6" fill="#eef0f3"/><circle cx="115.1" cy="68.6" r="0.9" fill="#eef0f3"/>
<!-- test diamond -->
<path d="M145 59.8 L151.2 65.4 L145 71 L138.8 65.4 Z" fill="#636363" stroke="#636363" stroke-width="2" stroke-linejoin="round"/><rect x="141.4" y="64.4" width="7.2" height="2" rx="0.8" fill="#eef0f3"/>
<!-- debug lines -->
<g fill="#3c3c3c"><rect x="169" y="60.2" width="12" height="1.8"/><rect x="169" y="64" width="3.2" height="2.4"/><rect x="173.4" y="64" width="3.2" height="2.4"/><rect x="177.8" y="64" width="3.2" height="2.4"/><rect x="169" y="68.6" width="12" height="1.8"/></g>
<!-- breakpoint -->
<path d="M198.8 62.4 L207.8 62.4 L212 65.8 L207.8 69.2 L198.8 69.2 Z" fill="#5e5e5e"/>
<!-- log -->
<path d="M231 59.4 L238.8 59.4 Q240.8 59.4 240.8 61.4 L240.8 67.4 Q240.8 69.4 238.8 69.4 L237.4 69.4 L235.4 72.2 L235.2 69.4 L231 69.4 Q229 69.4 229 67.4 L229 61.4 Q229 59.4 231 59.4 Z" fill="#555"/><g fill="#eef0f3"><rect x="231.2" y="61.6" width="7.4" height="1.1"/><rect x="231.2" y="63.8" width="7.4" height="1.1"/><rect x="231.2" y="66" width="7.4" height="1.1"/></g>
</svg>
<div id="navbot"></div>
<svg style="left:0;top:688px" width="259" height="22" viewBox="0 688 259 22">
<path d="M7.2 698.8 L14 698.8 M10.6 695.4 L10.6 702.2" stroke="#333" stroke-width="1.7"/>
<rect x="24" y="692" width="1" height="14" fill="#b4b8be"/>
<circle cx="38.2" cy="699" r="5" fill="#eef0f4" stroke="#3a3a3a" stroke-width="1.7"/><path d="M38.2 695.6 L38.2 699.2 L41 700.8" fill="none" stroke="#3a3a3a" stroke-width="1.4"/>
<rect x="52.1" y="693.6" width="10.6" height="10.8" rx="1.2" fill="#eef0f4" stroke="#3a3a3a" stroke-width="1.6"/><rect x="54.6" y="696.2" width="5.6" height="2" fill="none" stroke="#3a3a3a" stroke-width="1"/><rect x="54.6" y="700" width="5.6" height="2" fill="none" stroke="#3a3a3a" stroke-width="1"/>
<rect x="71.5" y="691.5" width="181.5" height="16.4" rx="8.2" fill="#e8ebf0" stroke="#85888d" stroke-width="1"/>
<path d="M78 692.6 L247 692.6" stroke="#b9bcc2" stroke-width="1"/>
<circle cx="80.6" cy="699.6" r="4.2" fill="#fff" stroke="#777" stroke-width="1"/><path d="M76.4 699.6 A4.2 4.2 0 0 0 84.8 699.6 Z" fill="#777"/>
</svg>
<div id="navdiv"></div>
<div id="jump"></div>
<svg style="left:260px;top:54px" width="1020" height="22" viewBox="260 54 1020 22">
<!-- related items grid -->
<g fill="#1e1e1e"><rect x="267.4" y="59.2" width="1.8" height="3.6"/><rect x="270.2" y="59.2" width="1.8" height="3.6"/><rect x="267.4" y="64.8" width="1.8" height="3.6"/><rect x="270.2" y="64.8" width="1.8" height="3.6"/><rect x="273" y="64.8" width="1.8" height="3.6"/></g>
<g fill="#6c6c6c"><rect x="273" y="59.2" width="1.8" height="3.6"/><rect x="275.8" y="59.2" width="1.8" height="3.6"/><rect x="275.8" y="64.8" width="1.8" height="3.6"/></g>
<rect x="287" y="58" width="1" height="13" fill="#b2b2b2"/>
<path d="M305.6 59.6 L305.6 69 L297.4 64.3 Z" fill="#8f8f8f"/>
<path d="M323 59.6 L323 69 L331.2 64.3 Z" fill="#8f8f8f"/>
<rect x="341" y="58" width="1" height="13" fill="#b2b2b2"/>
<!-- project icon -->
<path d="M348.8 56.6 L356.4 56.6 L361 61.2 L361 71.6 L348.8 71.6 Z" fill="url(#gproj)" stroke="#3d6fae" stroke-width="0.8"/><path d="M356.4 56.6 L356.4 61.2 L361 61.2 Z" fill="#dbe9f9" stroke="#3d6fae" stroke-width="0.6"/><path d="M351.4 69 L354.9 62.4 L358.4 69 M352.6 66.8 L357.2 66.8" fill="none" stroke="#e6f0fc" stroke-width="1"/>
<!-- chevrons -->
<g fill="none" stroke="#9a9a9a" stroke-width="1"><path d="M433.6 59 L437.2 64.6 L433.6 70.2"/><path d="M532.2 59 L535.8 64.6 L532.2 70.2"/><path d="M651.8 59 L655.4 64.6 L651.8 70.2"/><path d="M805.8 59 L809.4 64.6 L805.8 70.2"/><path d="M989.8 59 L993.4 64.6 L989.8 70.2"/><path d="M1139.8 59 L1143.4 64.6 L1139.8 70.2"/></g>
<!-- folder -->
<svg x="452" y="64.8" width="1" height="1"><g transform="scale(1.06)"><use href="#i-folder"/></g></svg>
<!-- storyboard icons -->
<svg x="549.6" y="64.4" width="1" height="1"><use href="#i-doc"/><rect x="-3.6" y="-4.6" width="7" height="10.8" fill="#44699c"/><rect x="-3.6" y="-4.6" width="7" height="2" fill="#2f4f80"/><rect x="-2.6" y="-1.6" width="5" height="1.8" fill="#cfe0f4"/><rect x="-2.6" y="1.2" width="5" height="1.8" fill="#eaf1fa"/><rect x="-2.6" y="4" width="1.2" height="1.2" fill="#eaf1fa"/><rect x="-0.7" y="4" width="1.2" height="1.2" fill="#eaf1fa"/><rect x="1.2" y="4" width="1.2" height="1.2" fill="#eaf1fa"/></svg>
<svg x="668.6" y="64.4" width="1" height="1"><use href="#i-doc"/><rect x="-3.6" y="-4.6" width="7" height="10.8" fill="#44699c"/><rect x="-3.6" y="-4.6" width="7" height="2" fill="#2f4f80"/><rect x="-2.6" y="-1.6" width="5" height="1.8" fill="#cfe0f4"/><rect x="-2.6" y="1.2" width="5" height="1.8" fill="#eaf1fa"/><rect x="-2.6" y="4" width="1.2" height="1.2" fill="#eaf1fa"/><rect x="-0.7" y="4" width="1.2" height="1.2" fill="#eaf1fa"/><rect x="1.2" y="4" width="1.2" height="1.2" fill="#eaf1fa"/></svg>
<!-- scene icon -->
<g><rect x="817" y="58.4" width="13.4" height="12.6" rx="1" fill="#f2f2f2" stroke="#5a5a5a" stroke-width="1"/><rect x="817" y="58.4" width="13.4" height="3.2" fill="#6a6a6a"/><path d="M819 58.4 l1.4 3.2 M822 58.4 l1.4 3.2 M825 58.4 l1.4 3.2 M828 58.4 l1.4 3.2" stroke="#ddd" stroke-width="0.8"/><rect x="819.4" y="63.6" width="8.6" height="5.4" fill="#cfcfcf" stroke="#6a6a6a" stroke-width="0.8"/></g>
<!-- view controller icon -->
<circle cx="1007" cy="64.2" r="7" fill="#f0b73a" stroke="#d99a1e" stroke-width="0.8"/><rect x="1003.2" y="60.4" width="7.6" height="7.6" rx="0.8" fill="#f7d98a" stroke="#fff6dc" stroke-width="1"/><rect x="1005.2" y="62.4" width="3.6" height="3.6" fill="none" stroke="#c8861a" stroke-width="0.8"/>
<!-- view icon -->
<rect x="1150" y="57.6" width="13.6" height="13.6" fill="#fbfbfb" stroke="#9a9a9a" stroke-width="1" stroke-dasharray="1.4 1"/>
</svg>
<span class="t" style="left:367.5px;top:56.2px;height:16px;line-height:16px;font-size:12px;letter-spacing:-0.355px;color:#111">HerbGarden</span>
<span class="t" style="left:464px;top:56.2px;height:16px;line-height:16px;font-size:12px;letter-spacing:-0.355px;color:#111">HerbGarden</span>
<span class="t" style="left:561px;top:56.2px;height:16px;line-height:16px;font-size:12px;letter-spacing:-0.070px;color:#111">Main.storyboard</span>
<span class="t" style="left:681.5px;top:56.2px;height:16px;line-height:16px;font-size:12px;letter-spacing:-0.237px;color:#111">Main.storyboard (Base)</span>
<span class="t" style="left:835.5px;top:56.2px;height:16px;line-height:16px;font-size:12px;letter-spacing:-0.168px;color:#111">Home View Controller Scene</span>
<span class="t" style="left:1019.5px;top:56.2px;height:16px;line-height:16px;font-size:12px;letter-spacing:-0.050px;color:#111">Home View Controller</span>
<span class="t" style="left:1169px;top:56.2px;height:16px;line-height:16px;font-size:12px;letter-spacing:-0.324px;color:#111">View</span>
<div id="canvas"></div>
<svg style="left:260px;top:76px" width="1020" height="498" viewBox="260 76 1020 498" text-rendering="geometricPrecision">
<defs>
<filter id="b3" x="-30%" y="-30%" width="160%" height="160%"><feGaussianBlur stdDeviation="3"/></filter>
<filter id="b2" x="-30%" y="-30%" width="160%" height="160%"><feGaussianBlur stdDeviation="2.2"/></filter>
<filter id="b1" x="-30%" y="-30%" width="160%" height="160%"><feGaussianBlur stdDeviation="1.2"/></filter>
<filter id="sh" x="-20%" y="-20%" width="140%" height="140%"><feGaussianBlur stdDeviation="1.6"/></filter>
<filter id="lsh" x="-20%" y="-20%" width="140%" height="140%"><feGaussianBlur stdDeviation="1.1"/></filter>
<linearGradient id="glab" x1="0" y1="0" x2="0" y2="1"><stop offset="0" stop-color="#5e5e5e"/><stop offset="0.5" stop-color="#3a3a3a"/><stop offset="1" stop-color="#1c1c1c"/></linearGradient>
<linearGradient id="gentry" x1="0" y1="0" x2="1" y2="0"><stop offset="0" stop-color="#bdbdbd" stop-opacity="0"/><stop offset="1" stop-color="#b4b4b4"/></linearGradient>
<clipPath id="cs"><rect x="0" y="0" width="80" height="142"/></clipPath>
<!-- foliage photo, 80x142 -->
<g id="foliage" clip-path="url(#cs)">
<rect x="0" y="0" width="80" height="142" fill="#48673a"/>
<g filter="url(#b3)">
<ellipse cx="6" cy="22" rx="20" ry="28" fill="#2b4123"/>
<ellipse cx="76" cy="8" rx="13" ry="13" fill="#34502b"/>
<ellipse cx="75" cy="134" rx="15" ry="15" fill="#304a28"/>
<ellipse cx="4" cy="138" rx="10" ry="9" fill="#36522d"/>
<ellipse cx="67" cy="66" rx="12" ry="20" fill="#5b8145"/>
<ellipse cx="9" cy="98" rx="10" ry="17" fill="#577c40"/>
<ellipse cx="54" cy="124" rx="13" ry="8" fill="#567a3c"/>
<ellipse cx="34" cy="20" rx="11" ry="7" fill="#537440"/>
<ellipse cx="14" cy="48" rx="7" ry="7" fill="#54773f"/>
</g>
<g filter="url(#b2)">
<ellipse cx="21" cy="64" rx="7" ry="7" fill="#314a29"/>
<ellipse cx="70" cy="100" rx="7" ry="10" fill="#35502c"/>
<ellipse cx="58" cy="30" rx="6" ry="6" fill="#3a562f"/>
<ellipse cx="26" cy="104" rx="5" ry="5" fill="#3a562f"/>
<ellipse cx="60" cy="46" rx="5" ry="4" fill="#3e5c33"/>
<ellipse cx="5" cy="60" rx="7" ry="9" fill="#2a3d21"/>
<ellipse cx="70" cy="64" rx="5" ry="7" fill="#33492a" opacity="0.8"/>
<ellipse cx="75" cy="116" rx="9" ry="11" fill="#293c20"/>
<ellipse cx="13" cy="112" rx="5" ry="6" fill="#324a2b" opacity="0.8"/>
<ellipse cx="40" cy="63" rx="4.4" ry="4.4" fill="#39532f" opacity="0.8"/>
<ellipse cx="57" cy="98" rx="4" ry="4" fill="#36502d" opacity="0.7"/>
<ellipse cx="33" cy="40" rx="5" ry="5" fill="#334b2a" opacity="0.7"/>
</g>
<g filter="url(#b3)" fill="#9aa19a" opacity="0.38"><ellipse cx="42" cy="78" rx="11" ry="50" transform="rotate(12 42 78)"/></g>
<g filter="url(#b3)" fill="#a7a9ac" opacity="0.95">
<ellipse cx="46" cy="38" rx="6.4" ry="5.4"/>
<ellipse cx="51" cy="55" rx="6" ry="5.4"/>
<ellipse cx="43" cy="73" rx="7" ry="6"/>
<ellipse cx="38" cy="90" rx="7" ry="6"/>
<ellipse cx="44" cy="106" rx="7.4" ry="6"/>
<ellipse cx="30" cy="119" rx="6.4" ry="5.4"/>
<ellipse cx="25" cy="132" rx="5.4" ry="4.6"/>
<ellipse cx="58" cy="84" rx="3.6" ry="3.6" opacity="0.6"/>
<ellipse cx="27" cy="82" rx="3.6" ry="3.6" opacity="0.5"/>
<ellipse cx="36" cy="54" rx="3" ry="3" opacity="0.5"/>
<ellipse cx="26" cy="58" rx="4" ry="3.6" opacity="0.55"/>
<ellipse cx="21" cy="98" rx="3.4" ry="3" opacity="0.4"/>
<ellipse cx="54" cy="92" rx="4" ry="3.6" opacity="0.55"/>
<ellipse cx="50" cy="114" rx="3.6" ry="3.2" opacity="0.5"/>
</g>
<rect x="0" y="0" width="80" height="142" fill="#3b403a" opacity="0.15"/>
</g>
<!-- teal home photo: foliage + blue overlay -->
<g id="tealbg" clip-path="url(#cs)">
<use href="#foliage"/>
<rect x="0" y="0" width="80" height="142" fill="#304e80" opacity="0.57"/>
</g>
<!-- tab bar icons group (relative to scene origin) -->
<g id="tabicons" fill="none" stroke="#e8efe6" stroke-width="0.5" opacity="0.9">
<circle cx="9.6" cy="133.2" r="3.3"/><path d="M9.6 131.6 v3.2 M8 133.2 h3.2"/><path d="M6.4 138.6 h6.4 M36.2 138.6 h6.6 M66.4 138.6 h5.6" stroke-width="0.8" opacity="0.45"/>
<path d="M36.4 135 h7 a1.9 1.9 0 0 0 0.2 -3.8 a2.8 2.8 0 0 0 -5.4 -0.6 a2.2 2.2 0 0 0 -1.8 4.4 z"/>
<rect x="65.8" y="130.2" width="7.4" height="6" rx="0.7"/><circle cx="69.5" cy="133.4" r="1.9"/><path d="M68 130.2 l0.6 -0.9 h1.8 l0.6 0.9"/>
</g>
<g id="plus" fill="none" stroke="#eef3ec" stroke-width="0.5"><circle cx="0" cy="0" r="2.7"/><path d="M0 -1.4 v2.8 M-1.4 0 h2.8"/></g>
<clipPath id="cmap"><rect x="763.2" y="246" width="79.8" height="68"/></clipPath><clipPath id="c6"><rect x="870" y="171.2" width="79.4" height="141.8"/></clipPath></defs>
<g>
<rect x="272" y="328.2" width="23" height="2.6" fill="#000" opacity="0.10" filter="url(#lsh)"/><rect x="272" y="327" width="23" height="2" fill="url(#gentry)"/>
<path d="M294.0 324.6 L299.8 328 L294.0 331.4 Z" fill="#fff" stroke="#c4c4c4" stroke-width="0.9" stroke-linejoin="round"/>
<path d="M381.5 328 H409" fill="none" stroke="#000" stroke-width="2.6" opacity="0.13" filter="url(#lsh)" transform="translate(0,0.6)"/><path d="M381.5 328 H409" fill="none" stroke="#d0d0d0" stroke-width="2.0"/>
<circle cx="397.6" cy="328.4" r="5.2" fill="#000" opacity="0.22" filter="url(#lsh)"/><circle cx="397.6" cy="327.9" r="4.7" fill="#b9b9b9" stroke="#aaaaaa" stroke-width="0.5"/><circle cx="396.1" cy="327.9" r="1" fill="#e8e8e8"/><circle cx="399.1" cy="327.9" r="1" fill="#e8e8e8"/><path d="M396.1 327.9 h3" stroke="#e8e8e8" stroke-width="0.5"/>
<path d="M408.2 324.6 L414 328 L408.2 331.4 Z" fill="#fff" stroke="#c4c4c4" stroke-width="0.9" stroke-linejoin="round"/>
<path d="M494.6 327.6 H507 Q522.4 327.6 522.4 312 V259 Q522.4 243.4 538 243.4 H545" fill="none" stroke="#000" stroke-width="2.6" opacity="0.13" filter="url(#lsh)" transform="translate(0,0.6)"/><path d="M494.6 327.6 H507 Q522.4 327.6 522.4 312 V259 Q522.4 243.4 538 243.4 H545" fill="none" stroke="#d0d0d0" stroke-width="2.0"/>
<path d="M494.6 327.6 H507 Q522.4 327.6 522.4 343 V428 Q522.4 444 538 444 H544" fill="none" stroke="#000" stroke-width="2.6" opacity="0.13" filter="url(#lsh)" transform="translate(0,0.6)"/><path d="M494.6 327.6 H507 Q522.4 327.6 522.4 343 V428 Q522.4 444 538 444 H544" fill="none" stroke="#d0d0d0" stroke-width="2.0"/>
<circle cx="522.4" cy="286.1" r="5.2" fill="#000" opacity="0.22" filter="url(#lsh)"/><circle cx="522.4" cy="285.6" r="4.7" fill="#b9b9b9" stroke="#aaaaaa" stroke-width="0.5"/><circle cx="522.4" cy="285.6" r="2" fill="none" stroke="#dcdcdc" stroke-width="0.7"/>
<circle cx="522.4" cy="386.5" r="5.2" fill="#000" opacity="0.22" filter="url(#lsh)"/><circle cx="522.4" cy="386" r="4.7" fill="#b9b9b9" stroke="#aaaaaa" stroke-width="0.5"/><circle cx="522.4" cy="386" r="2" fill="none" stroke="#dcdcdc" stroke-width="0.7"/>
<path d="M544.6 240.0 L550.4 243.4 L544.6 246.8 Z" fill="#fff" stroke="#c4c4c4" stroke-width="0.9" stroke-linejoin="round"/>
<path d="M543.0 440.6 L548.8 444 L543.0 447.4 Z" fill="#fff" stroke="#c4c4c4" stroke-width="0.9" stroke-linejoin="round"/>
<path d="M631 243.1 H653" fill="none" stroke="#000" stroke-width="2.6" opacity="0.13" filter="url(#lsh)" transform="translate(0,0.6)"/><path d="M631 243.1 H653" fill="none" stroke="#d0d0d0" stroke-width="2.0"/>
<circle cx="645" cy="243.5" r="5.2" fill="#000" opacity="0.22" filter="url(#lsh)"/><circle cx="645" cy="243" r="4.7" fill="#b9b9b9" stroke="#aaaaaa" stroke-width="0.5"/><rect x="643.1" y="241.4" width="3.8" height="3.2" rx="0.5" fill="none" stroke="#dedede" stroke-width="0.6"/><path d="M644.1 243.2 h1.8" stroke="#e6e6e6" stroke-width="0.7"/>
<path d="M653.0 239.7 L658.8 243.1 L653.0 246.5 Z" fill="#fff" stroke="#c4c4c4" stroke-width="0.9" stroke-linejoin="round"/>
<path d="M739.5 243.1 H758" fill="none" stroke="#000" stroke-width="2.6" opacity="0.13" filter="url(#lsh)" transform="translate(0,0.6)"/><path d="M739.5 243.1 H758" fill="none" stroke="#d0d0d0" stroke-width="2.0"/>
<circle cx="751.2" cy="243.5" r="5.2" fill="#000" opacity="0.22" filter="url(#lsh)"/><circle cx="751.2" cy="243" r="4.7" fill="#b9b9b9" stroke="#aaaaaa" stroke-width="0.5"/><rect x="749.3000000000001" y="241.4" width="3.8" height="3.2" rx="0.5" fill="none" stroke="#dedede" stroke-width="0.6"/><path d="M750.3000000000001 243.2 h1.8" stroke="#e6e6e6" stroke-width="0.7"/>
<path d="M757.2 239.7 L763 243.1 L757.2 246.5 Z" fill="#fff" stroke="#c4c4c4" stroke-width="0.9" stroke-linejoin="round"/>
<path d="M843.2 242.9 H863" fill="none" stroke="#000" stroke-width="2.6" opacity="0.13" filter="url(#lsh)" transform="translate(0,0.6)"/><path d="M843.2 242.9 H863" fill="none" stroke="#d0d0d0" stroke-width="2.0"/>
<circle cx="855.7" cy="243.3" r="5.2" fill="#000" opacity="0.22" filter="url(#lsh)"/><circle cx="855.7" cy="242.8" r="4.7" fill="#b9b9b9" stroke="#aaaaaa" stroke-width="0.5"/><rect x="853.8000000000001" y="241.20000000000002" width="3.8" height="3.2" rx="0.5" fill="none" stroke="#dedede" stroke-width="0.6"/><path d="M854.8000000000001 243.0 h1.8" stroke="#e6e6e6" stroke-width="0.7"/>
<path d="M863.2 239.5 L869 242.9 L863.2 246.3 Z" fill="#fff" stroke="#c4c4c4" stroke-width="0.9" stroke-linejoin="round"/>
<path d="M949.5 242.6 H967" fill="none" stroke="#000" stroke-width="2.6" opacity="0.13" filter="url(#lsh)" transform="translate(0,0.6)"/><path d="M949.5 242.6 H967" fill="none" stroke="#d0d0d0" stroke-width="2.0"/>
<circle cx="960.4" cy="243.0" r="5.2" fill="#000" opacity="0.22" filter="url(#lsh)"/><circle cx="960.4" cy="242.5" r="4.7" fill="#b9b9b9" stroke="#aaaaaa" stroke-width="0.5"/><rect x="958.5" y="240.9" width="3.8" height="3.2" rx="0.5" fill="none" stroke="#dedede" stroke-width="0.6"/><path d="M959.5 242.7 h1.8" stroke="#e6e6e6" stroke-width="0.7"/>
<path d="M965.8000000000001 239.2 L971.6 242.6 L965.8000000000001 246.0 Z" fill="#fff" stroke="#c4c4c4" stroke-width="0.9" stroke-linejoin="round"/>
</g>
<rect x="299.2" y="257.40000000000003" width="82.4" height="143.2" fill="#000" opacity="0.26" filter="url(#sh)"/><rect x="299.2" y="256.0" width="82.4" height="143.4" fill="#fff" stroke="#dedede" stroke-width="0.5"/>
<rect x="300.2" y="256.8" width="80.4" height="141.6" fill="#efefef"/>
<rect x="300.2" y="256.8" width="80.4" height="16.6" fill="#fdfdfd"/><rect x="300.2" y="273.1" width="80.4" height="0.4" fill="#c8c8c8"/><rect x="372.40000000000003" y="258.40000000000003" width="5.6" height="1.8" rx="0.5" fill="#222"/>
<text x="340.5" y="330.4" font-family="Liberation Sans" font-size="7.6" font-weight="bold" fill="#c2c2c2" text-anchor="middle" textLength="70.2" lengthAdjust="spacingAndGlyphs" opacity="0.99">Navigation Controller</text>
<rect x="301" y="406.6" width="79.19999999999999" height="8" rx="1" fill="#000" opacity="0.25" filter="url(#lsh)"/><rect x="301" y="406" width="79.19999999999999" height="7.8" rx="1" fill="url(#glab)"/><text x="340.2" y="411.8" font-family="Liberation Sans" font-size="5.5" font-weight="bold" fill="#fff" text-anchor="middle" textLength="50.5" lengthAdjust="spacingAndGlyphs" opacity="0.99">Navigation Controller</text>
<rect x="413.5" y="257.40000000000003" width="82.0" height="142.79999999999998" fill="#000" opacity="0.26" filter="url(#sh)"/><rect x="413.5" y="256.0" width="82.0" height="143.0" fill="#fff" stroke="#dedede" stroke-width="0.5"/>
<g transform="translate(414.5,256.8) scale(1.0,0.9944)"><use href="#tealbg"/></g>
<rect x="486.5" y="258.2" width="5.4" height="1.6" rx="0.5" fill="#1c2a30"/>
<circle cx="455" cy="288.4" r="10" fill="none" stroke="#b9ccd8" stroke-width="0.6" opacity="0.9"/>
<path d="M449 284 Q453.6 283.4 455.8 287.6 Q456.8 289.8 455.8 292.2 L455.2 295 L454.2 295 L454.4 292.2 Q451 291 449.8 287.4 Q449.2 285.6 449 284 Z" fill="#c2d3de" fill-rule="evenodd" opacity="0.95"/>
<path d="M461.6 284 Q457.8 283.8 456.8 287.4 Q456.4 289.4 457.4 291.8 Q460.8 290.4 461.6 284 Z" fill="#c2d3de" fill-rule="evenodd" opacity="0.95"/>
<text x="455.1" y="311.1" font-family="Liberation Sans" font-size="7.7" font-weight="normal" fill="#b6c8d8" text-anchor="middle" textLength="48.1" lengthAdjust="spacingAndGlyphs" opacity="0.95">HERB GARDEN</text>
<rect x="429.8" y="338" width="50.2" height="10.6" fill="#b3c5de"/>
<rect x="429.8" y="359.8" width="50.2" height="10.8" fill="#b3c5de"/>
<text x="454.9" y="344.6" font-family="Liberation Sans" font-size="2.9" font-weight="bold" fill="#4a5d78" text-anchor="middle" textLength="33.0" lengthAdjust="spacingAndGlyphs" opacity="0.99">START A HERB GARDEN</text>
<text x="454.9" y="366.4" font-family="Liberation Sans" font-size="2.9" font-weight="bold" fill="#4a5d78" text-anchor="middle" textLength="14.0" lengthAdjust="spacingAndGlyphs" opacity="0.99">HERB INFO</text>
<rect x="415" y="406.6" width="79.5" height="8" rx="1" fill="#000" opacity="0.25" filter="url(#lsh)"/><rect x="415" y="406" width="79.5" height="7.8" rx="1" fill="url(#glab)"/><text x="454.6" y="411.8" font-family="Liberation Sans" font-size="5.5" font-weight="bold" fill="#fff" text-anchor="middle" textLength="51.3" lengthAdjust="spacingAndGlyphs" opacity="0.99">Home View Controller</text>
<rect x="550.2" y="173.0" width="80.8" height="143.0" fill="#000" opacity="0.26" filter="url(#sh)"/><rect x="550.2" y="171.6" width="80.8" height="143.20000000000002" fill="#fff" stroke="#dedede" stroke-width="0.5"/>
<g transform="translate(551.2,172.4) scale(0.9850,0.9958)"><use href="#foliage"/></g>
<rect x="551.2" y="189" width="78.8" height="21.5" fill="#cfd8cc" opacity="0.22"/>
<rect x="551.2" y="172.4" width="78.8" height="16.6" fill="#fdfdfd"/><rect x="551.2" y="188.7" width="78.8" height="0.4" fill="#c8c8c8"/><rect x="621.8" y="174.0" width="5.6" height="1.8" rx="0.5" fill="#222"/><text x="591.0" y="184.4" font-family="Liberation Sans" font-size="4.2" font-weight="bold" fill="#222" text-anchor="middle" textLength="22.0" lengthAdjust="spacingAndGlyphs" opacity="0.99">My Garden</text>
<text x="591.2" y="196.2" font-family="Liberation Sans" font-size="3.7" font-weight="normal" fill="#f2f5f0" text-anchor="middle" textLength="69.0" lengthAdjust="spacingAndGlyphs" opacity="0.92">You have no herbs in your garden yet.</text><text x="591.2" y="201.7" font-family="Liberation Sans" font-size="3.7" font-weight="normal" fill="#f2f5f0" text-anchor="middle" textLength="70.0" lengthAdjust="spacingAndGlyphs" opacity="0.92">Once you plant a herb it will be added</text>
<text x="580.6" y="207.3" font-family="Liberation Sans" font-size="3.7" font-weight="normal" fill="#f2f5f0" text-anchor="end" opacity="0.92">to</text><text x="581.6" y="207.3" font-family="Liberation Sans" font-size="3.7" font-weight="bold" fill="#ffffff" text-anchor="start" textLength="21.5" lengthAdjust="spacingAndGlyphs" opacity="0.99">My Garden.</text>
<rect x="565.8" y="246.7" width="49.60000000000002" height="10.100000000000023" fill="#f3f3f1"/><text x="593.2" y="252.8" font-family="Liberation Sans" font-size="2.8" font-weight="normal" fill="#4c4c4c" text-anchor="middle" textLength="20.5" lengthAdjust="spacingAndGlyphs" opacity="0.99">PLANT A HERB</text><circle cx="578.55" cy="251.75" r="2.5" fill="none" stroke="#5a5a5a" stroke-width="0.45"/><path d="M578.55 250.55 v2.4 M577.3499999999999 251.75 h2.4" stroke="#5a5a5a" stroke-width="0.45"/>
<rect x="551.2" y="300.6" width="78.8" height="13.2" fill="#e6eae4" opacity="0.30"/>
<g transform="translate(551.5,173.0)"><use href="#tabicons"/></g>
<rect x="551.2" y="322.8" width="79.19999999999993" height="8" rx="1" fill="#000" opacity="0.25" filter="url(#lsh)"/><rect x="551.2" y="322.2" width="79.19999999999993" height="7.8" rx="1" fill="url(#glab)"/><text x="590.6" y="327.9" font-family="Liberation Sans" font-size="5.5" font-weight="bold" fill="#fff" text-anchor="middle" textLength="75.2" lengthAdjust="spacingAndGlyphs" opacity="0.99">My Garden View Controller – My</text>
<rect x="658.7" y="171.79999999999998" width="81.4" height="143.2" fill="#000" opacity="0.26" filter="url(#sh)"/><rect x="658.7" y="170.39999999999998" width="81.4" height="143.4" fill="#fff" stroke="#dedede" stroke-width="0.5"/>
<g transform="translate(659.7,171.2) scale(0.9925,0.9972)"><use href="#foliage"/></g>
<rect x="662.7" y="194" width="72.8" height="96" fill="#18240f" opacity="0.18"/>
<rect x="659.7" y="171.2" width="79.4" height="16.6" fill="#fdfdfd"/><rect x="659.7" y="187.49999999999997" width="79.4" height="0.4" fill="#c8c8c8"/><rect x="730.9" y="172.79999999999998" width="5.6" height="1.8" rx="0.5" fill="#222"/><text x="699.0" y="183.2" font-family="Liberation Sans" font-size="4.2" font-weight="bold" fill="#222" text-anchor="middle" textLength="19.4" lengthAdjust="spacingAndGlyphs" opacity="0.99">Plant herb</text>
<text x="699.2" y="206.8" font-family="Liberation Sans" font-size="3.7" font-weight="normal" fill="#f2f5f0" text-anchor="middle" textLength="57.5" lengthAdjust="spacingAndGlyphs" opacity="0.92">Different Herbs grow better in</text><text x="699.2" y="211.4" font-family="Liberation Sans" font-size="3.7" font-weight="normal" fill="#f2f5f0" text-anchor="middle" textLength="57.5" lengthAdjust="spacingAndGlyphs" opacity="0.92">different regions and climates.</text><text x="699.2" y="219.2" font-family="Liberation Sans" font-size="3.7" font-weight="normal" fill="#f2f5f0" text-anchor="middle" textLength="53.5" lengthAdjust="spacingAndGlyphs" opacity="0.92">Want to see which herbs will</text><text x="699.2" y="224.4" font-family="Liberation Sans" font-size="3.7" font-weight="normal" fill="#f2f5f0" text-anchor="middle" textLength="54.0" lengthAdjust="spacingAndGlyphs" opacity="0.92">grow better in your location?</text>
<rect x="674.9" y="230.3" width="50.30000000000007" height="10.599999999999994" fill="#f3f3f1"/><text x="702.6" y="236.7" font-family="Liberation Sans" font-size="2.8" font-weight="normal" fill="#4c4c4c" text-anchor="middle" textLength="28.0" lengthAdjust="spacingAndGlyphs" opacity="0.99">CHECK BY LOCATION</text><path d="M683.65 238.00000000000003 V233.20000000000002 H687.25 L686.4499999999999 234.8 L687.25 236.20000000000002 H683.65" fill="none" stroke="#5a5a5a" stroke-width="0.45"/>
<text x="699.4" y="258.6" font-family="Liberation Sans" font-size="3.7" font-weight="normal" fill="#f2f5f0" text-anchor="middle" textLength="51.5" lengthAdjust="spacingAndGlyphs" opacity="0.92">Already know what you herb</text><text x="699.4" y="264.4" font-family="Liberation Sans" font-size="3.7" font-weight="normal" fill="#f2f5f0" text-anchor="middle" textLength="34.0" lengthAdjust="spacingAndGlyphs" opacity="0.92">you want to plant?</text>
<rect x="674.6" y="268.2" width="49.60000000000002" height="10.600000000000023" fill="#f3f3f1"/><text x="702.0" y="274.6" font-family="Liberation Sans" font-size="2.8" font-weight="normal" fill="#4c4c4c" text-anchor="middle" textLength="20.5" lengthAdjust="spacingAndGlyphs" opacity="0.99">PLANT A HERB</text><circle cx="687.3500000000001" cy="273.5" r="2.5" fill="none" stroke="#5a5a5a" stroke-width="0.45"/><path d="M687.3500000000001 272.3 v2.4 M686.1500000000001 273.5 h2.4" stroke="#5a5a5a" stroke-width="0.45"/>
<rect x="659.7" y="299.6" width="79.4" height="13.2" fill="#e6eae4" opacity="0.30"/>
<g transform="translate(660.6,172.1)"><use href="#tabicons"/></g>
<rect x="659.7" y="321.6" width="79.39999999999998" height="8" rx="1" fill="#000" opacity="0.25" filter="url(#lsh)"/><rect x="659.7" y="321" width="79.39999999999998" height="7.8" rx="1" fill="url(#glab)"/><text x="699.1" y="326.8" font-family="Liberation Sans" font-size="5.5" font-weight="bold" fill="#fff" text-anchor="middle" textLength="66.2" lengthAdjust="spacingAndGlyphs" opacity="0.99">View Controller – Plant herb</text>
<rect x="762.2" y="173.0" width="81.8" height="143.2" fill="#000" opacity="0.26" filter="url(#sh)"/><rect x="762.2" y="171.6" width="81.8" height="143.4" fill="#fff" stroke="#dedede" stroke-width="0.5"/>
<g transform="translate(763.2,172.4) scale(0.9975,0.9972)"><use href="#foliage"/></g>
<rect x="763.2" y="189" width="79.8" height="9.2" fill="#dfe8dc" opacity="0.16"/>
<rect x="763.2" y="198.2" width="79.8" height="48" fill="#15200e" opacity="0.22"/>
<rect x="763.2" y="246" width="79.8" height="68" fill="#5f8098" opacity="0.82"/>
<g clip-path="url(#cmap)"><g filter="url(#b3)" opacity="0.45"><ellipse cx="786" cy="262" rx="12" ry="8" fill="#6d8c9c"/><ellipse cx="824" cy="296" rx="14" ry="10" fill="#527284"/><ellipse cx="800" cy="300" rx="10" ry="8" fill="#6a8797"/><ellipse cx="830" cy="258" rx="10" ry="8" fill="#54768a"/><ellipse cx="774" cy="296" rx="8" ry="10" fill="#557586"/></g></g>
<rect x="763.2" y="245.8" width="79.8" height="0.5" fill="#9eb4bf" opacity="0.8"/>
<rect x="763.2" y="172.4" width="79.8" height="16.6" fill="#fdfdfd"/><rect x="763.2" y="188.7" width="79.8" height="0.4" fill="#c8c8c8"/><rect x="834.8" y="174.0" width="5.6" height="1.8" rx="0.5" fill="#222"/><text x="803.1" y="184.4" font-family="Liberation Sans" font-size="4.2" font-weight="bold" fill="#222" text-anchor="middle" textLength="16.7" lengthAdjust="spacingAndGlyphs" opacity="0.99">Location</text>
<text x="803.0" y="195.2" font-family="Liberation Sans" font-size="3.2" font-weight="normal" fill="#e6ece2" text-anchor="middle" textLength="26.0" lengthAdjust="spacingAndGlyphs" opacity="0.7">Current Location</text>
<rect x="778.4" y="212.6" width="50.0" height="10.599999999999994" fill="#f3f3f1"/><text x="803.4" y="218.9" font-family="Liberation Sans" font-size="2.8" font-weight="normal" fill="#4c4c4c" text-anchor="middle" textLength="35.0" lengthAdjust="spacingAndGlyphs" opacity="0.99">USE CURRENT LOCATION</text>
<rect x="778.4" y="228.2" width="50.0" height="10.600000000000023" fill="#f3f3f1"/><text x="803.4" y="234.6" font-family="Liberation Sans" font-size="2.8" font-weight="normal" fill="#4c4c4c" text-anchor="middle" textLength="39.0" lengthAdjust="spacingAndGlyphs" opacity="0.99">ENTER ANOTHER LOCATION</text>
<text x="803.1" y="280.6" font-family="Liberation Sans" font-size="3.6" font-weight="bold" fill="#fff" text-anchor="middle" textLength="20.2" lengthAdjust="spacingAndGlyphs" opacity="0.99">MKMapView</text>
<rect x="763.2" y="322.6" width="79.79999999999995" height="8" rx="1" fill="#000" opacity="0.25" filter="url(#lsh)"/><rect x="763.2" y="322" width="79.79999999999995" height="7.8" rx="1" fill="url(#glab)"/><text x="803.1" y="327.8" font-family="Liberation Sans" font-size="5.5" font-weight="bold" fill="#fff" text-anchor="middle" textLength="62.2" lengthAdjust="spacingAndGlyphs" opacity="0.99">Location View Controller –</text>
<rect x="869.1" y="171.79999999999998" width="81.0" height="143.4" fill="#000" opacity="0.26" filter="url(#sh)"/><rect x="869.1" y="170.39999999999998" width="81.0" height="143.60000000000002" fill="#fff" stroke="#dedede" stroke-width="0.5"/>
<g transform="translate(870.1,171.2) scale(0.9875,0.9986)"><use href="#foliage"/></g>
<rect x="870.1" y="187.8" width="79" height="35.4" fill="#d8e0d4" opacity="0.10"/><rect x="870.1" y="223.2" width="79" height="89.8" fill="#131d0c" opacity="0.24"/>
<rect x="870.1" y="171.2" width="79" height="16.6" fill="#fdfdfd"/><rect x="870.1" y="187.49999999999997" width="79" height="0.4" fill="#c8c8c8"/><rect x="940.9" y="172.79999999999998" width="5.6" height="1.8" rx="0.5" fill="#222"/><text x="909.6" y="183.2" font-family="Liberation Sans" font-size="4.2" font-weight="bold" fill="#222" text-anchor="middle" textLength="23.3" lengthAdjust="spacingAndGlyphs" opacity="0.99">Plant a herb</text>
<text x="877.0" y="194.9" font-family="Liberation Sans" font-size="3.7" font-weight="normal" fill="#f2f5f0" text-anchor="start" textLength="64.5" lengthAdjust="spacingAndGlyphs" opacity="0.92">Based on the location you selected,</text>
<text x="877.0" y="200.0" font-family="Liberation Sans" font-size="3.7" font-weight="normal" fill="#f2f5f0" text-anchor="start" textLength="64.0" lengthAdjust="spacingAndGlyphs" opacity="0.92">these are the herbs we recommend</text>
<text x="877.0" y="205.5" font-family="Liberation Sans" font-size="3.7" font-weight="normal" fill="#f2f5f0" text-anchor="start" textLength="18.0" lengthAdjust="spacingAndGlyphs" opacity="0.92">you plant.</text>
<text x="877.0" y="213.6" font-family="Liberation Sans" font-size="3.7" font-weight="normal" fill="#f2f5f0" text-anchor="start" textLength="63.5" lengthAdjust="spacingAndGlyphs" opacity="0.92">Select the ones you want to add to</text>
<text x="877.0" y="218.9" font-family="Liberation Sans" font-size="3.7" font-weight="normal" fill="#f2f5f0" text-anchor="start" textLength="24.0" lengthAdjust="spacingAndGlyphs" opacity="0.92">your garden.</text>
<g clip-path="url(#c6)">
<text x="874.0" y="232.1" font-family="Liberation Sans" font-size="3.7" font-weight="normal" fill="#f2f5f0" text-anchor="start" textLength="10.5" lengthAdjust="spacingAndGlyphs" opacity="0.9">Anise</text>
<use href="#plus" x="939" y="230.20000000000002"/>
<text x="874.0" y="243.4" font-family="Liberation Sans" font-size="3.7" font-weight="normal" fill="#f2f5f0" text-anchor="start" textLength="9.0" lengthAdjust="spacingAndGlyphs" opacity="0.9">Basil</text>
<use href="#plus" x="939" y="241.5"/>
<text x="874.0" y="254.8" font-family="Liberation Sans" font-size="3.7" font-weight="normal" fill="#f2f5f0" text-anchor="start" textLength="19.0" lengthAdjust="spacingAndGlyphs" opacity="0.9">Bay Leaves</text>
<use href="#plus" x="939" y="252.9"/>
<text x="874.0" y="266.2" font-family="Liberation Sans" font-size="3.7" font-weight="normal" fill="#f2f5f0" text-anchor="start" textLength="14.5" lengthAdjust="spacingAndGlyphs" opacity="0.9">Cilantro</text>
<use href="#plus" x="939" y="264.29999999999995"/>
<text x="874.0" y="278.1" font-family="Liberation Sans" font-size="3.7" font-weight="normal" fill="#f2f5f0" text-anchor="start" textLength="12.0" lengthAdjust="spacingAndGlyphs" opacity="0.9">Chives</text>
<use href="#plus" x="939" y="276.2"/>
<text x="874.0" y="289.4" font-family="Liberation Sans" font-size="3.7" font-weight="normal" fill="#f2f5f0" text-anchor="start" textLength="17.5" lengthAdjust="spacingAndGlyphs" opacity="0.9">Coriander</text>
<use href="#plus" x="939" y="287.5"/>
<text x="874.0" y="300.8" font-family="Liberation Sans" font-size="3.7" font-weight="normal" fill="#f2f5f0" text-anchor="start" textLength="5.6" lengthAdjust="spacingAndGlyphs" opacity="0.9">Dill</text>
<use href="#plus" x="939" y="298.9"/>
<text x="874.0" y="312.2" font-family="Liberation Sans" font-size="3.7" font-weight="normal" fill="#f2f5f0" text-anchor="start" textLength="12.0" lengthAdjust="spacingAndGlyphs" opacity="0.9">Fennel</text>
<use href="#plus" x="939" y="310.29999999999995"/>
<rect x="873.4" y="235.3" width="76" height="0.45" fill="#e8efe4" opacity="0.7"/>
<rect x="873.4" y="246.7" width="76" height="0.45" fill="#e8efe4" opacity="0.7"/>
<rect x="873.4" y="258" width="76" height="0.45" fill="#e8efe4" opacity="0.7"/>
<rect x="873.4" y="269.4" width="76" height="0.45" fill="#e8efe4" opacity="0.7"/>
<rect x="873.4" y="281.3" width="76" height="0.45" fill="#e8efe4" opacity="0.7"/>
<rect x="873.4" y="292.7" width="76" height="0.45" fill="#e8efe4" opacity="0.7"/>
<rect x="873.4" y="304" width="76" height="0.45" fill="#e8efe4" opacity="0.7"/>
</g>
<rect x="870" y="321.6" width="79.39999999999998" height="8" rx="1" fill="#000" opacity="0.25" filter="url(#lsh)"/><rect x="870" y="321" width="79.39999999999998" height="7.8" rx="1" fill="url(#glab)"/><text x="909.4" y="326.8" font-family="Liberation Sans" font-size="5.5" font-weight="bold" fill="#fff" text-anchor="middle" textLength="70.8" lengthAdjust="spacingAndGlyphs" opacity="0.99">View Controller – Plant a herb</text>
<rect x="971.0" y="171.79999999999998" width="81.8" height="143.4" fill="#000" opacity="0.26" filter="url(#sh)"/><rect x="971.0" y="170.39999999999998" width="81.8" height="143.60000000000002" fill="#fff" stroke="#dedede" stroke-width="0.5"/>
<g transform="translate(972,171.2) scale(0.9975,0.9986)"><use href="#foliage"/></g>
<rect x="972" y="187.8" width="79.8" height="13.9" fill="#dfe8dc" opacity="0.30"/>
<rect x="972" y="201.7" width="79.8" height="16.9" fill="#10190a" opacity="0.42"/>
<rect x="972" y="171.2" width="79.8" height="16.6" fill="#fdfdfd"/><rect x="972" y="187.49999999999997" width="79.8" height="0.4" fill="#c8c8c8"/><rect x="1043.6" y="172.79999999999998" width="5.6" height="1.8" rx="0.5" fill="#222"/><text x="1012.3" y="183.2" font-family="Liberation Sans" font-size="4.2" font-weight="bold" fill="#222" text-anchor="middle" textLength="22.0" lengthAdjust="spacingAndGlyphs" opacity="0.99">My Garden</text>
<text x="1012.3" y="196.4" font-family="Liberation Sans" font-size="3.6" font-weight="normal" fill="#f2f5f0" text-anchor="middle" textLength="10.8" lengthAdjust="spacingAndGlyphs" opacity="0.9">Herbs</text>
<text x="1011.9" y="214.2" font-family="Liberation Sans" font-size="7" font-weight="bold" fill="#e9eee6" text-anchor="middle" textLength="16.2" lengthAdjust="spacingAndGlyphs" opacity="0.92">Basil</text>
<rect x="976" y="205.6" width="12" height="11.2" fill="#0d1408" opacity="0.35" stroke="#9fb09a" stroke-width="0.4"/><rect x="979.6" y="208.4" width="4.6" height="4" rx="0.6" fill="none" stroke="#c9d4c4" stroke-width="0.45"/><circle cx="981.9" cy="210.4" r="1" fill="none" stroke="#c9d4c4" stroke-width="0.4"/>
<circle cx="1040.5" cy="211.8" r="2.8" fill="none" stroke="#dfe7da" stroke-width="0.5"/><path d="M1040.5 210.2 v0.5 M1040.5 211.3 v2" stroke="#dfe7da" stroke-width="0.55"/>
<rect x="972" y="299.6" width="79.8" height="13.4" fill="#e6eae4" opacity="0.30"/>
<g transform="translate(972.6,171.79999999999998)"><use href="#tabicons"/></g>
<rect x="972" y="321.6" width="79.79999999999995" height="8" rx="1" fill="#000" opacity="0.25" filter="url(#lsh)"/><rect x="972" y="321" width="79.79999999999995" height="7.8" rx="1" fill="url(#glab)"/><text x="1011.9" y="326.8" font-family="Liberation Sans" font-size="5.5" font-weight="bold" fill="#fff" text-anchor="middle" textLength="68.2" lengthAdjust="spacingAndGlyphs" opacity="0.99">View Controller – My Garden</text>
<rect x="548.6" y="373.6" width="81.8" height="143.4" fill="#000" opacity="0.26" filter="url(#sh)"/><rect x="548.6" y="372.2" width="81.8" height="143.60000000000002" fill="#fff" stroke="#dedede" stroke-width="0.5"/>
<g transform="translate(549.6,373) scale(0.9975,0.9986)"><use href="#foliage"/></g>
<rect x="549.6" y="389.6" width="79.8" height="125.2" fill="#131d0c" opacity="0.16"/>
<rect x="549.6" y="373" width="79.8" height="16.6" fill="#fdfdfd"/><rect x="549.6" y="389.3" width="79.8" height="0.4" fill="#c8c8c8"/><rect x="621.1999999999999" y="374.6" width="5.6" height="1.8" rx="0.5" fill="#222"/><text x="589.0" y="385.0" font-family="Liberation Sans" font-size="4.2" font-weight="bold" fill="#222" text-anchor="middle" textLength="22.8" lengthAdjust="spacingAndGlyphs" opacity="0.99">HERB INFO</text>
<text x="589.3" y="399.2" font-family="Liberation Sans" font-size="3.7" font-weight="normal" fill="#f2f5f0" text-anchor="middle" textLength="70.0" lengthAdjust="spacingAndGlyphs" opacity="0.92">Search for the herbs you want to know</text><text x="589.3" y="404.3" font-family="Liberation Sans" font-size="3.7" font-weight="normal" fill="#f2f5f0" text-anchor="middle" textLength="45.0" lengthAdjust="spacingAndGlyphs" opacity="0.92">more information about.</text>
<rect x="551.6" y="409.3" width="75.8" height="6.4" rx="0.6" fill="#fbfbfb"/>
<text x="591.0" y="413.6" font-family="Liberation Sans" font-size="2.8" font-weight="normal" fill="#a8a8a8" text-anchor="middle" textLength="8.0" lengthAdjust="spacingAndGlyphs" opacity="0.99">Search</text><circle cx="583.4" cy="412.3" r="0.9" fill="none" stroke="#a8a8a8" stroke-width="0.35"/><path d="M584 413 l0.9 0.9" stroke="#a8a8a8" stroke-width="0.35"/>
<text x="554.1" y="428.3" font-family="Liberation Sans" font-size="3.7" font-weight="normal" fill="#f2f5f0" text-anchor="start" textLength="16.5" lengthAdjust="spacingAndGlyphs" opacity="0.92">Angelica</text>
<use href="#plus" x="623.6" y="426.6"/>
<text x="554.1" y="439.6" font-family="Liberation Sans" font-size="3.7" font-weight="normal" fill="#f2f5f0" text-anchor="start" textLength="10.5" lengthAdjust="spacingAndGlyphs" opacity="0.92">Anise</text>
<use href="#plus" x="623.6" y="437.90000000000003"/>
<text x="554.1" y="450.8" font-family="Liberation Sans" font-size="3.7" font-weight="normal" fill="#f2f5f0" text-anchor="start" textLength="9.0" lengthAdjust="spacingAndGlyphs" opacity="0.92">Basil</text>
<use href="#plus" x="623.6" y="449.1"/>
<text x="554.1" y="462.1" font-family="Liberation Sans" font-size="3.7" font-weight="normal" fill="#f2f5f0" text-anchor="start" textLength="19.0" lengthAdjust="spacingAndGlyphs" opacity="0.92">Bay Leaves</text>
<use href="#plus" x="623.6" y="460.40000000000003"/>
<text x="554.1" y="473.5" font-family="Liberation Sans" font-size="3.7" font-weight="normal" fill="#f2f5f0" text-anchor="start" textLength="16.5" lengthAdjust="spacingAndGlyphs" opacity="0.92">Bee Balm</text>
<use href="#plus" x="623.6" y="471.8"/>
<text x="554.1" y="484.9" font-family="Liberation Sans" font-size="3.7" font-weight="normal" fill="#f2f5f0" text-anchor="start" textLength="13.0" lengthAdjust="spacingAndGlyphs" opacity="0.92">Borage</text>
<use href="#plus" x="623.6" y="483.20000000000005"/>
<text x="554.1" y="496.0" font-family="Liberation Sans" font-size="3.7" font-weight="normal" fill="#f2f5f0" text-anchor="start" textLength="12.5" lengthAdjust="spacingAndGlyphs" opacity="0.92">Burnet</text>
<use href="#plus" x="623.6" y="494.3"/>
<text x="554.1" y="507.3" font-family="Liberation Sans" font-size="3.7" font-weight="normal" fill="#f2f5f0" text-anchor="start" textLength="15.5" lengthAdjust="spacingAndGlyphs" opacity="0.92">Caraway</text>
<use href="#plus" x="623.6" y="505.6"/>
<rect x="553" y="431.5" width="76.4" height="0.45" fill="#e8efe4" opacity="0.75"/>
<rect x="553" y="442.9" width="76.4" height="0.45" fill="#e8efe4" opacity="0.75"/>
<rect x="553" y="454.3" width="76.4" height="0.45" fill="#e8efe4" opacity="0.75"/>
<rect x="553" y="465.6" width="76.4" height="0.45" fill="#e8efe4" opacity="0.75"/>
<rect x="553" y="477" width="76.4" height="0.45" fill="#e8efe4" opacity="0.75"/>
<rect x="553" y="488.1" width="76.4" height="0.45" fill="#e8efe4" opacity="0.75"/>
<rect x="553" y="499.5" width="76.4" height="0.45" fill="#e8efe4" opacity="0.75"/>
<rect x="553" y="510.9" width="76.4" height="0.45" fill="#e8efe4" opacity="0.75"/>
<rect x="549.6" y="522.8000000000001" width="79.79999999999995" height="8" rx="1" fill="#000" opacity="0.25" filter="url(#lsh)"/><rect x="549.6" y="522.2" width="79.79999999999995" height="7.8" rx="1" fill="url(#glab)"/><text x="589.0" y="528.0" font-family="Liberation Sans" font-size="5.5" font-weight="bold" fill="#fff" text-anchor="middle" textLength="64.0" lengthAdjust="spacingAndGlyphs" opacity="0.99">Herb Info View Controller –</text>
<rect x="282.5" y="541.5" width="33.0" height="21" rx="3.5" fill="#ffffff" stroke="#8c8c8c" stroke-width="1"/>
<rect x="293.5" y="546.5" width="9" height="11" fill="#fff" stroke="#1e1e1e" stroke-width="1"/><path d="M296 549 L300.6 552 L296 555 Z" fill="#4a4a4a"/>
<rect x="975.5" y="541.5" width="33.0" height="21" rx="3.5" fill="#ffffff" stroke="#8c8c8c" stroke-width="1"/>
<rect x="988.3" y="546.4" width="5" height="10.8" rx="1" fill="#8a8a8a" stroke="#3a3a3a" stroke-width="1"/><rect x="989.6" y="544.6" width="2.4" height="1" fill="#3a3a3a"/><path d="M989.2 558.6 h3.2 l-1.6 1.2 z" fill="#3a3a3a"/>
<rect x="1017.5" y="541.5" width="132.0" height="21" rx="3.5" fill="#ffffff" stroke="#8c8c8c" stroke-width="1"/><rect x="1050.5" y="545" width="1" height="14" fill="#c8c8c8"/><rect x="1083.5" y="545" width="1" height="14" fill="#c8c8c8"/><rect x="1116.5" y="545" width="1" height="14" fill="#c8c8c8"/>
<rect x="1026.2" y="546" width="1.3" height="12" fill="#3a3a3a"/><rect x="1029.6" y="546.8" width="7" height="3.6" fill="#fff" stroke="#3a3a3a" stroke-width="1.3"/><rect x="1029.6" y="553.6" width="10" height="3.6" fill="#fff" stroke="#3a3a3a" stroke-width="1.3"/>
<path d="M1056.8 547.2 v9.6 M1075.6 547.2 v9.6 M1056.8 552 h3.4 M1072.2 552 h3.4 M1066.2 548.6 v6.8 M1062.8 552 h6.8" stroke="#3a3a3a" stroke-width="1.5" fill="none"/>
<path d="M1089.6 547.2 v9.6 M1108.8 547.2 v9.6 M1089.6 552 h3.2 M1105.6 552 h3.2" stroke="#3a3a3a" stroke-width="1.5" fill="none"/><circle cx="1099.2" cy="552" r="3.7" fill="#666"/>
<rect x="1125.8" y="546.4" width="13" height="11.4" fill="#fff" stroke="#3a3a3a" stroke-width="1.5"/><path d="M1126 552.4 h7.6 v-6" fill="none" stroke="#3a3a3a" stroke-width="1.4"/>
<rect x="1158.5" y="541.5" width="99.0" height="21" rx="3.5" fill="#ffffff" stroke="#8c8c8c" stroke-width="1"/><rect x="1191.5" y="545" width="1" height="14" fill="#c8c8c8"/><rect x="1224.5" y="545" width="1" height="14" fill="#c8c8c8"/>
<circle cx="1172.8" cy="550.4" r="3.9" fill="#a8a8a8" stroke="#333" stroke-width="1.7"/><path d="M1176 553.6 L1179.6 557" stroke="#333" stroke-width="2.4" stroke-linecap="round"/><path d="M1170.4 550.4 h4.8" stroke="#fff" stroke-width="1.5"/>
<rect x="1202" y="548.2" width="10.6" height="2.4" fill="#333"/><rect x="1202" y="553" width="10.6" height="2.4" fill="#333"/>
<circle cx="1238.8" cy="550.4" r="3.9" fill="#a8a8a8" stroke="#333" stroke-width="1.7"/><path d="M1242 553.6 L1245.6 557" stroke="#333" stroke-width="2.4" stroke-linecap="round"/><path d="M1236.4 550.4 h4.8 M1238.8 548 v4.8" stroke="#fff" stroke-width="1.5"/>
</svg>
<div id="dbar"></div>
<div id="dbg"></div>
<div id="dsplit"></div><div id="dbot"></div>
<svg style="left:260px;top:574px" width="1020" height="136" viewBox="260 574 1020 136">
<!-- hide debug area -->
<rect x="269.5" y="580.5" width="13" height="9" fill="#f8f8f8" stroke="#1a1a1a" stroke-width="1"/><path d="M273.2 583.4 L278.8 583.4 L276 586.8 Z" fill="#2a2a2a"/>
<!-- breakpoints toggle -->
<path d="M301 581 L311 581 L315 585.2 L311 589.4 L301 589.4 Z" fill="#2e86e0"/>
<!-- pause -->
<rect x="335.8" y="581" width="2.8" height="8.2" fill="#3a3a3a"/><rect x="340.8" y="581" width="2.8" height="8.2" fill="#3a3a3a"/>
<!-- step over -->
<path d="M366.4 586 A5 4.6 0 0 1 376 584.6" fill="none" stroke="#8c8c8c" stroke-width="1.7"/><path d="M373.2 583.6 L378.6 582.4 L377.4 587.6 Z" fill="#8c8c8c"/><rect x="367.6" y="587.8" width="7.4" height="2" fill="#9a9a9a"/>
<!-- step in -->
<path d="M402.6 579.6 L405.4 579.6 L405.4 583.2 L408 583.2 L404 587 L400 583.2 L402.6 583.2 Z" fill="#8c8c8c"/><rect x="400.2" y="588.2" width="7.6" height="2" fill="#9a9a9a"/>
<!-- step out -->
<path d="M434.6 587 L437.4 587 L437.4 583.4 L440 583.4 L436 579.6 L432 583.4 L434.6 583.4 Z" fill="#8c8c8c"/><rect x="432.2" y="588.2" width="7.6" height="2" fill="#9a9a9a"/>
<rect x="451" y="578.5" width="1" height="13" fill="#bcbcbc"/>
<!-- location -->
<path d="M471 580 L466.6 589.6 L465.8 585.2 L461.4 584.4 Z" fill="#2f7ad6"/>
<rect x="483" y="578.5" width="1" height="13" fill="#bcbcbc"/>
<!-- app icon -->
<rect x="490.5" y="577" width="14" height="14" rx="2" fill="#f4f4f4" stroke="#b4b4b4" stroke-width="0.9" stroke-dasharray="1.5 1"/><circle cx="497.5" cy="584" r="4.2" fill="none" stroke="#cacaca" stroke-width="0.7"/><path d="M490.5 584 L504.5 584 M497.5 577 L497.5 591 M494 577 L494 591 M501 577 L501 591 M490.5 580.5 L504.5 580.5 M490.5 587.5 L504.5 587.5" stroke="#d2d2d2" stroke-width="0.5"/>
<!-- Auto popup arrows -->
<path d="M300.2 697.6 L302.8 694.2 L305.4 697.6 Z M300.2 700.6 L302.8 704 L305.4 700.6 Z" fill="#222"/>
<rect x="313" y="692.5" width="1" height="13" fill="#c2c2c2"/>
<!-- eye -->
<path d="M320 699.4 Q327.4 692.4 334.8 699.4 Q327.4 706.4 320 699.4 Z" fill="none" stroke="#8a8a8a" stroke-width="1.4"/><circle cx="327.4" cy="699.2" r="2.4" fill="#8a8a8a"/>
<!-- info -->
<circle cx="348.6" cy="699.4" r="5.2" fill="#9b9b9b"/><path d="M349.6 696.2 L347.8 702.8" stroke="#e8e8e8" stroke-width="1.4"/><circle cx="349.8" cy="695.8" r="0.1" fill="#fff"/>
<!-- filter field -->
<rect x="595.5" y="691.5" width="171" height="16" rx="8" fill="#fff" stroke="#8e8e8e" stroke-width="1"/><path d="M600 692.6 L762 692.6" stroke="#d0d0d0" stroke-width="1"/>
<circle cx="604.4" cy="699.4" r="4" fill="#fff" stroke="#777" stroke-width="1"/><path d="M600.4 699.4 A4 4 0 0 0 608.4 699.4 Z" fill="#777"/>
<!-- All Output arrows -->
<path d="M841.4 697.6 L844 694.2 L846.6 697.6 Z M841.4 700.6 L844 704 L846.6 700.6 Z" fill="#222"/>
<!-- trash -->
<g><rect x="1219.4" y="693" width="3.4" height="1.2" fill="#222"/><rect x="1216" y="694.8" width="10.2" height="1.8" rx="0.6" fill="#222"/><path d="M1217 696.6 L1225.2 696.6 L1224.6 704.2 Q1224.5 705.2 1223.5 705.2 L1218.7 705.2 Q1217.7 705.2 1217.6 704.2 Z" fill="#fafafa" stroke="#222" stroke-width="1.3"/><rect x="1219.7" y="698.4" width="1" height="4.6" fill="#222"/><rect x="1221.6" y="698.4" width="1" height="4.6" fill="#222"/></g>
<rect x="1234" y="692.5" width="1" height="13" fill="#c2c2c2"/>
<!-- pane toggles -->
<rect x="1243" y="694.5" width="11.4" height="10.4" fill="#f4f7fb" stroke="#2f78db" stroke-width="1"/><rect x="1243" y="694.5" width="5" height="10.4" fill="#3a86e2"/>
<rect x="1261.4" y="694.5" width="11.4" height="10.4" fill="#f4f7fb" stroke="#2f78db" stroke-width="1"/><rect x="1267.8" y="694.5" width="5" height="10.4" fill="#3a86e2"/>
</svg>
<span class="t" style="left:510.7px;top:576.2px;height:16px;line-height:16px;font-size:12px;letter-spacing:-0.375px;color:#111">HerbGarden</span>
<span class="t" style="left:270px;top:691.2px;height:16px;line-height:16px;font-size:12px;letter-spacing:0.253px;color:#111">Auto</span>
<span class="t" style="left:783px;top:691.2px;height:16px;line-height:16px;font-size:12px;letter-spacing:0.130px;color:#111">All Output</span>
<div class="abs" style="left:778.3px;top:595px;width:500px;font-family:'Liberation Mono',monospace;font-weight:bold;font-size:11px;line-height:13px;letter-spacing:0.015px;color:#000;white-space:pre">2014-06-17 19:27:18.590 HerbGarden[14730:60b] Location: &lt;
+51.50998000,-0.13370000&gt; +/- 5.00m (speed -1.00 mps / course -1.00) @
6/17/14, 7:27:18 PM Western European Summer Time
2014-06-17 19:27:19.765 HerbGarden[14730:60b] Location: &lt;
+51.50998000,-0.13370000&gt; +/- 5.00m (speed -1.00 mps / course -1.00) @
6/17/14, 7:27:19 PM Western European Summer Time</div>
</div>
</body>
</html>
